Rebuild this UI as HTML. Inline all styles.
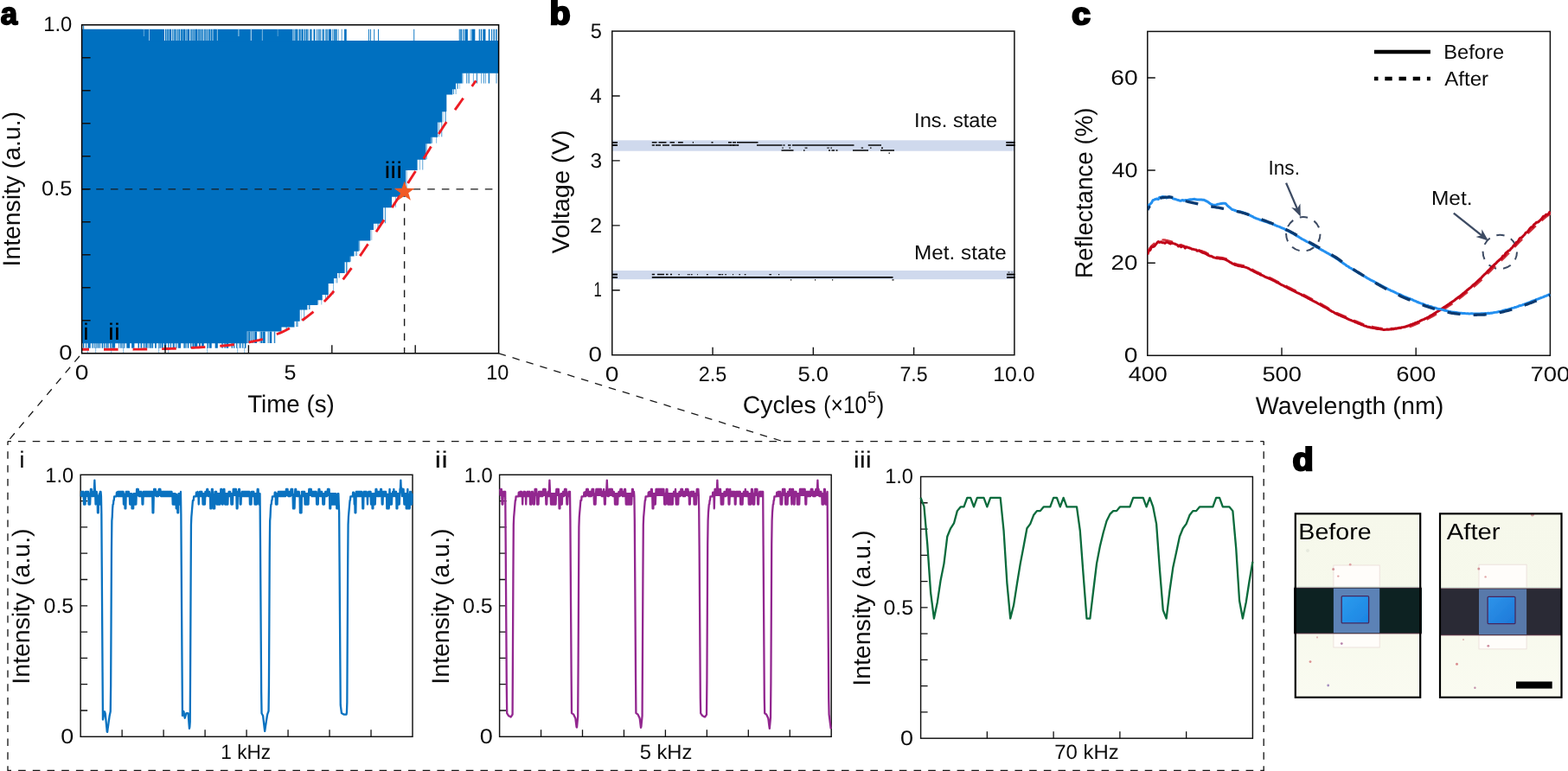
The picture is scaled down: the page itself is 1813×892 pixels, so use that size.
<!DOCTYPE html>
<html lang="en">
<head>
<meta charset="utf-8">
<title>Figure</title>
<style>
html,body{margin:0;padding:0;background:#fff;}
body{width:1813px;height:892px;overflow:hidden;}
svg{display:block;}
svg text{font-family:"Liberation Sans", sans-serif;text-rendering:geometricPrecision;}
</style>
</head>
<body>
<svg width="1813" height="892" viewBox="0 0 1813 892">
<rect width="1813" height="892" fill="#fff"/>
<path d="M94.6 33.8 H164 V47 H576.6 V84.8 H534.4 V96.6 H527 V103.3 H523.3 V109.5 H516 V129.2 H511 V141.5 H506 V158.8 H498.6 V166.2 H492.5 V184.7 H482.6 V197 H469 V227.8 H453 V240.2 H443.2 V258.7 H432 V266 H428.4 V278.4 H414.8 V290.7 H409.5 V296.5 H404.8 V303.2 H398.6 V316.1 H390 V322 H386 V327.9 H379.7 V341 H372.7 V347.2 H367.2 V353 H355.4 V358.5 H346.7 V371.8 H340.5 V378.6 H325.5 V383.6 H285.5 V397.2 H94.6 Z" fill="#0070C0"/>
<rect x="164" y="33.8" width="26" height="13.3" fill="#0070C0"/>
<path d="M165.94 34h0.51V42h-0.51zM172.25 34h0.78V47h-0.78z" fill="#fff" opacity="0.75"/>
<path d="M190.91 33.8h1.62V47.2h-1.62zM193.03 33.8h0.76V47.2h-0.76zM194.15 33.8h1.12V47.2h-1.12zM195.74 33.8h2.51V47.2h-2.51zM199.23 33.8h1.22V47.2h-1.22zM200.92 33.8h0.65V47.2h-0.65zM201.91 33.8h1.13V47.2h-1.13zM203.54 33.8h0.61V47.2h-0.61zM204.5 33.8h0.61V47.2h-0.61zM205.46 33.8h1.18V47.2h-1.18zM207.07 33.8h1.35V47.2h-1.35zM209.19 33.8h1.98V47.2h-1.98zM211.55 33.8h2.99V47.2h-2.99zM215.29 33.8h1.04V47.2h-1.04zM216.68 33.8h2.57V47.2h-2.57zM220.18 33.8h0.68V47.2h-0.68zM221.24 33.8h0.96V47.2h-0.96zM222.56 33.8h1.11V47.2h-1.11zM224.24 33.8h0.87V47.2h-0.87zM225.46 33.8h3.03V47.2h-3.03zM228.95 33.8h0.8V47.2h-0.8zM230.09 33.8h1.3V47.2h-1.3zM231.91 33.8h1.25V47.2h-1.25zM233.73 33.8h1.48V47.2h-1.48zM236.04 33.8h0.89V47.2h-0.89zM237.28 33.8h0.74V47.2h-0.74zM238.37 33.8h0.94V47.2h-0.94zM239.66 33.8h0.68V47.2h-0.68zM240.69 33.8h0.65V47.2h-0.65zM241.69 33.8h1.28V47.2h-1.28zM243.53 33.8h2.02V47.2h-2.02zM245.91 33.8h0.67V47.2h-0.67zM246.92 33.8h3.08V47.2h-3.08z" fill="#0070C0"/>
<rect x="250" y="33.8" width="88" height="13.3" fill="#0070C0"/>
<path d="M250.87 34h0.77V47h-0.77zM275.5 34h0.88V42h-0.88zM289.8 34h1.01V47h-1.01zM302.88 34h0.68V47h-0.68zM320.87 34h0.44V42h-0.44z" fill="#fff" opacity="0.75"/>
<path d="M338.44 33.8h0.62V47.2h-0.62zM339.41 33.8h1.12V47.2h-1.12zM341.25 33.8h2.59V47.2h-2.59zM344.43 33.8h0.91V47.2h-0.91zM345.92 33.8h1.16V47.2h-1.16zM347.43 33.8h1.04V47.2h-1.04zM348.86 33.8h1.85V47.2h-1.85zM351.69 33.8h1.31V47.2h-1.31zM353.65 33.8h1.35V47.2h-1.35z" fill="#0070C0"/>
<path d="M355.36 33.8h1.26V47.2h-1.26zM358.02 33.8h0.83V47.2h-0.83zM359.2 33.8h1.43V47.2h-1.43zM362.47 33.8h1.96V47.2h-1.96zM366.13 33.8h1.05V47.2h-1.05zM368.18 33.8h1.37V47.2h-1.37zM370.19 33.8h0.76V47.2h-0.76zM371.84 33.8h0.72V47.2h-0.72zM373.34 33.8h1.59V47.2h-1.59zM376.18 33.8h0.71V47.2h-0.71zM377.35 33.8h1.39V47.2h-1.39zM379.63 33.8h3.46V47.2h-3.46zM384.35 33.8h1.02V47.2h-1.02zM386.17 33.8h1.58V47.2h-1.58zM388.15 33.8h1.5V47.2h-1.5z" fill="#0070C0"/>
<path d="M390.83 33.8h0.63V47.2h-0.63zM394.74 33.8h0.72V47.2h-0.72zM398.07 33.8h2.64V47.2h-2.64z" fill="#0070C0"/>
<path d="M530.72 33.8h1.01V47.2h-1.01zM532.08 33.8h0.67V47.2h-0.67zM533.11 33.8h1.15V47.2h-1.15zM535.4 33.8h1.17V47.2h-1.17zM537.5 33.8h3.37V47.2h-3.37zM543.81 33.8h0.52V47.2h-0.52zM544.9 33.8h0.61V47.2h-0.61zM545.86 33.8h3.49V47.2h-3.49zM553.7 33.8h1.17V47.2h-1.17zM555.82 33.8h1.34V47.2h-1.34zM558.33 33.8h3.12V47.2h-3.12zM564.85 33.8h1.49V47.2h-1.49zM568.09 33.8h1.07V47.2h-1.07zM570.5 33.8h1.42V47.2h-1.42zM573.09 33.8h1.46V47.2h-1.46zM575.93 33.8h0.27V47.2h-0.27z" fill="#0070C0"/>
<rect x="426" y="33.8" width="0.9" height="13.4" fill="#0070C0"/>
<rect x="428" y="33.8" width="0.9" height="13.4" fill="#0070C0"/>
<rect x="432.3" y="33.8" width="0.9" height="13.4" fill="#0070C0"/>
<rect x="437" y="33.8" width="0.9" height="13.4" fill="#0070C0"/>
<rect x="478.3" y="33.8" width="0.9" height="13.4" fill="#0070C0"/>
<rect x="96" y="29.5" width="1.2" height="5" fill="#0070C0" opacity="0.8"/>
<path d="M96.02 397h1.39V402.8h-1.39zM99.02 397h1.08V402.8h-1.08zM101.49 397h3.24V402.8h-3.24zM106.43 397h1.2V402.8h-1.2zM108.67 397h0.53V402.8h-0.53zM109.55 397h0.86V402.8h-0.86zM111.31 397h0.72V402.8h-0.72zM112.71 397h1.39V402.8h-1.39zM114.92 397h1.08V402.8h-1.08zM117.58 397h1.52V402.8h-1.52zM119.92 397h0.99V402.8h-0.99zM121.69 397h0.85V402.8h-0.85zM123.24 397h0.73V402.8h-0.73zM124.32 397h1.35V402.8h-1.35zM127.18 397h0.9V402.8h-0.9zM128.49 397h1.01V402.8h-1.01zM129.91 397h3.24V402.8h-3.24zM136.85 397h0.75V402.8h-0.75zM138.76 397h0.94V402.8h-0.94zM140.4 397h0.6V402.8h-0.6zM141.43 397h1V402.8h-1zM143.21 397h1.07V402.8h-1.07zM145.9 397h0.62V402.8h-0.62zM146.88 397h3.22V402.8h-3.22zM152.13 397h3.29V402.8h-3.29zM159.55 397h1.4V402.8h-1.4zM162.56 397h1.54V402.8h-1.54zM165.6 397h1.07V402.8h-1.07zM167.41 397h0.81V402.8h-0.81zM168.63 397h1.48V402.8h-1.48zM170.56 397h0.6V402.8h-0.6zM171.79 397h0.74V402.8h-0.74zM172.89 397h0.51V402.8h-0.51zM173.82 397h1.51V402.8h-1.51zM175.83 397h1.28V402.8h-1.28zM179.07 397h1.73V402.8h-1.73zM183.37 397h1.19V402.8h-1.19zM185.21 397h0.99V402.8h-0.99zM186.82 397h1.38V402.8h-1.38zM188.65 397h0.52V402.8h-0.52zM189.97 397h2.34V402.8h-2.34zM194.32 397h1.22V402.8h-1.22zM196.92 397h1.1V402.8h-1.1zM199.71 397h1.84V402.8h-1.84zM202.61 397h0.72V402.8h-0.72zM204.21 397h0.65V402.8h-0.65zM205.87 397h3.13V402.8h-3.13zM212.39 397h1.47V402.8h-1.47zM214.37 397h1.23V402.8h-1.23zM216.75 397h1.57V402.8h-1.57zM220.15 397h1.21V402.8h-1.21zM222.12 397h0.5V402.8h-0.5zM222.97 397h1.58V402.8h-1.58zM225.07 397h3.24V402.8h-3.24zM229.96 397h1.91V402.8h-1.91zM233.09 397h2.69V402.8h-2.69zM239.22 397h0.6V402.8h-0.6zM240.17 397h1.15V402.8h-1.15zM242.08 397h2.62V402.8h-2.62zM248.67 397h3.16V402.8h-3.16zM256.37 397h1.36V402.8h-1.36zM259.45 397h1.29V402.8h-1.29zM261.58 397h2.6V402.8h-2.6zM267.66 397h1.29V402.8h-1.29zM270.02 397h1.27V402.8h-1.27zM273.14 397h1.33V402.8h-1.33zM276.23 397h0.52V402.8h-0.52zM277.42 397h1.28V402.8h-1.28zM280.13 397h1.31V402.8h-1.31zM282.87 397h1.56V402.8h-1.56z" fill="#0070C0"/>
<path d="M285.55 383.4h0.52V397h-0.52zM286.42 383.4h0.79V397h-0.79zM287.56 383.4h1.53V397h-1.53zM289.74 383.4h1.08V397h-1.08zM291.86 383.4h1.39V397h-1.39zM294.12 383.4h2.93V397h-2.93zM300.6 383.4h1.01V397h-1.01zM302.02 383.4h1.5V397h-1.5zM304.07 383.4h2.63V397h-2.63zM309.7 383.4h0.86V397h-0.86zM311.66 383.4h2.6V397h-2.6zM316.8 383.4h1.03V397h-1.03zM318.29 383.4h0.21V397h-0.21z" fill="#0070C0"/>
<path d="M534.69 84.6h0.63V96.6h-0.63zM539.11 84.6h0.67V96.6h-0.67zM540.79 84.6h0.64V96.6h-0.64zM542.35 84.6h0.65V96.6h-0.65zM546.92 84.6h0.59V96.6h-0.59zM550.88 84.6h0.96V96.6h-0.96zM556.44 84.6h0.53V96.6h-0.53zM559.12 84.6h0.72V96.6h-0.72zM561 84.6h0.58V96.6h-0.58zM564.74 84.6h1.31V96.6h-1.31zM573.64 84.6h0.74V96.6h-0.74z" fill="#0070C0"/>
<rect x="287.56" y="383.1" width="0.59" height="13.6" fill="#0070C0" opacity="0.7"/>
<rect x="290.54" y="383.1" width="0.4" height="13.6" fill="#0070C0" opacity="0.7"/>
<rect x="330.53" y="378.1" width="0.47" height="5" fill="#0070C0" opacity="0.7"/>
<rect x="331.06" y="378.1" width="0.83" height="5" fill="#0070C0" opacity="0.7"/>
<rect x="342.24" y="371.3" width="0.62" height="6.8" fill="#0070C0" opacity="0.7"/>
<rect x="342.86" y="371.3" width="1" height="6.8" fill="#0070C0" opacity="0.7"/>
<rect x="344.04" y="371.3" width="0.62" height="6.8" fill="#0070C0" opacity="0.7"/>
<rect x="351.23" y="358" width="0.91" height="13.3" fill="#0070C0" opacity="0.7"/>
<rect x="348.38" y="358" width="0.43" height="13.3" fill="#0070C0" opacity="0.7"/>
<rect x="357.11" y="352.5" width="0.96" height="5.5" fill="#0070C0" opacity="0.7"/>
<rect x="356.9" y="352.5" width="0.56" height="5.5" fill="#0070C0" opacity="0.7"/>
<rect x="358.47" y="352.5" width="0.51" height="5.5" fill="#0070C0" opacity="0.7"/>
<rect x="371.52" y="346.7" width="0.66" height="5.8" fill="#0070C0" opacity="0.7"/>
<rect x="367.36" y="346.7" width="0.86" height="5.8" fill="#0070C0" opacity="0.7"/>
<rect x="378.18" y="340.5" width="0.96" height="6.2" fill="#0070C0" opacity="0.7"/>
<rect x="376" y="340.5" width="0.83" height="6.2" fill="#0070C0" opacity="0.7"/>
<rect x="385.3" y="327.4" width="0.65" height="13.1" fill="#0070C0" opacity="0.7"/>
<rect x="389.01" y="321.5" width="0.79" height="5.9" fill="#0070C0" opacity="0.7"/>
<rect x="387.14" y="321.5" width="0.43" height="5.9" fill="#0070C0" opacity="0.7"/>
<rect x="389.71" y="321.5" width="0.48" height="5.9" fill="#0070C0" opacity="0.7"/>
<rect x="392.49" y="315.6" width="0.57" height="5.9" fill="#0070C0" opacity="0.7"/>
<rect x="391.53" y="315.6" width="0.84" height="5.9" fill="#0070C0" opacity="0.7"/>
<rect x="400.16" y="302.7" width="0.79" height="12.9" fill="#0070C0" opacity="0.7"/>
<rect x="400.41" y="302.7" width="0.73" height="12.9" fill="#0070C0" opacity="0.7"/>
<rect x="400.97" y="302.7" width="0.5" height="12.9" fill="#0070C0" opacity="0.7"/>
<rect x="405.15" y="296" width="0.7" height="6.7" fill="#0070C0" opacity="0.7"/>
<rect x="412.42" y="290.2" width="0.67" height="5.8" fill="#0070C0" opacity="0.7"/>
<rect x="411.26" y="290.2" width="0.86" height="5.8" fill="#0070C0" opacity="0.7"/>
<rect x="415.64" y="277.9" width="0.52" height="12.3" fill="#0070C0" opacity="0.7"/>
<rect x="415.34" y="277.9" width="0.61" height="12.3" fill="#0070C0" opacity="0.7"/>
<rect x="429.55" y="265.5" width="0.62" height="12.4" fill="#0070C0" opacity="0.7"/>
<rect x="433.21" y="258.2" width="0.41" height="7.3" fill="#0070C0" opacity="0.7"/>
<rect x="437.22" y="258.2" width="0.63" height="7.3" fill="#0070C0" opacity="0.7"/>
<rect x="436.48" y="258.2" width="0.53" height="7.3" fill="#0070C0" opacity="0.7"/>
<rect x="445.23" y="239.7" width="0.44" height="18.5" fill="#0070C0" opacity="0.7"/>
<rect x="444.87" y="239.7" width="0.98" height="18.5" fill="#0070C0" opacity="0.7"/>
<rect x="457.12" y="227.3" width="0.72" height="12.4" fill="#0070C0" opacity="0.7"/>
<rect x="469.56" y="196.5" width="0.94" height="30.8" fill="#0070C0" opacity="0.7"/>
<rect x="485" y="184.2" width="0.67" height="12.3" fill="#0070C0" opacity="0.7"/>
<rect x="488.32" y="184.2" width="0.91" height="12.3" fill="#0070C0" opacity="0.7"/>
<rect x="493.26" y="165.7" width="0.66" height="18.5" fill="#0070C0" opacity="0.7"/>
<rect x="504.41" y="158.3" width="0.69" height="7.4" fill="#0070C0" opacity="0.7"/>
<rect x="499.04" y="158.3" width="0.96" height="7.4" fill="#0070C0" opacity="0.7"/>
<rect x="510.28" y="141" width="0.98" height="17.3" fill="#0070C0" opacity="0.7"/>
<rect x="507.24" y="141" width="0.47" height="17.3" fill="#0070C0" opacity="0.7"/>
<rect x="506.77" y="141" width="0.71" height="17.3" fill="#0070C0" opacity="0.7"/>
<rect x="511.54" y="128.7" width="0.9" height="12.3" fill="#0070C0" opacity="0.7"/>
<rect x="514.51" y="128.7" width="0.91" height="12.3" fill="#0070C0" opacity="0.7"/>
<rect x="515.47" y="128.7" width="0.45" height="12.3" fill="#0070C0" opacity="0.7"/>
<rect x="516.01" y="109" width="0.48" height="19.7" fill="#0070C0" opacity="0.7"/>
<rect x="526.7" y="102.8" width="0.79" height="6.2" fill="#0070C0" opacity="0.7"/>
<rect x="524.42" y="102.8" width="0.48" height="6.2" fill="#0070C0" opacity="0.7"/>
<rect x="524.23" y="102.8" width="0.78" height="6.2" fill="#0070C0" opacity="0.7"/>
<rect x="531.58" y="96.1" width="0.46" height="6.7" fill="#0070C0" opacity="0.7"/>
<rect x="528.8" y="96.1" width="0.97" height="6.7" fill="#0070C0" opacity="0.7"/>
<rect x="528.15" y="96.1" width="0.56" height="6.7" fill="#0070C0" opacity="0.7"/>
<rect x="101" y="402" width="0.6" height="6.5" fill="#0070C0" opacity="0.8"/>
<rect x="110.5" y="402" width="0.6" height="6.5" fill="#0070C0" opacity="0.8"/>
<rect x="128.3" y="402" width="0.6" height="6.5" fill="#0070C0" opacity="0.8"/>
<rect x="142.5" y="402" width="0.6" height="6.5" fill="#0070C0" opacity="0.8"/>
<rect x="183.5" y="402" width="0.6" height="6.5" fill="#0070C0" opacity="0.8"/>
<rect x="194.5" y="402" width="0.6" height="6.5" fill="#0070C0" opacity="0.8"/>
<rect x="239.5" y="402" width="0.6" height="6.5" fill="#0070C0" opacity="0.8"/>
<rect x="274.5" y="402" width="0.6" height="6.5" fill="#0070C0" opacity="0.8"/>
<rect x="282.5" y="402" width="0.6" height="6.5" fill="#0070C0" opacity="0.8"/>
<line x1="94.6" y1="218.9" x2="570.6" y2="218.9" stroke="#1a1a1a" stroke-width="1.4" stroke-dasharray="8.6 8.05"/>
<line x1="467.6" y1="218.9" x2="467.6" y2="408.8" stroke="#1a1a1a" stroke-width="1.4" stroke-dasharray="8.6 8.05"/>
<path d="M94.7 404.3 L97.57 404.3 L100.43 404.3 L103.3 404.3 L106.16 404.3 L109.03 404.29 L111.9 404.29 L114.76 404.29 L117.63 404.28 L120.49 404.28 L123.36 404.27 L126.23 404.27 L129.09 404.26 L131.96 404.25 L134.82 404.25 L137.69 404.24 L140.56 404.23 L143.42 404.22 L146.29 404.21 L149.15 404.2 L152.02 404.19 L154.89 404.17 L157.75 404.15 L160.62 404.12 L163.48 404.09 L166.35 404.05 L169.22 404.01 L172.08 403.96 L174.95 403.91 L177.82 403.85 L180.68 403.8 L183.55 403.74 L186.41 403.68 L189.28 403.62 L192.15 403.55 L195.01 403.47 L197.88 403.38 L200.74 403.29 L203.61 403.18 L206.48 403.07 L209.34 402.95 L212.21 402.82 L215.07 402.68 L217.94 402.55 L220.81 402.4 L223.67 402.26 L226.54 402.11 L229.4 401.96 L232.27 401.8 L235.14 401.64 L238 401.47 L240.87 401.3 L243.73 401.11 L246.6 400.91 L249.47 400.71 L252.33 400.49 L255.2 400.25 L258.06 400.01 L260.93 399.74 L263.8 399.46 L266.66 399.15 L269.53 398.81 L272.39 398.44 L275.26 398.04 L278.13 397.61 L280.99 397.15 L283.86 396.66 L286.72 396.15 L289.59 395.6 L292.46 395.03 L295.32 394.43 L298.19 393.78 L301.05 393.05 L303.92 392.26 L306.79 391.4 L309.65 390.49 L312.52 389.51 L315.38 388.48 L318.25 387.39 L321.12 386.26 L323.98 385.08 L326.85 383.85 L329.72 382.52 L332.58 381.07 L335.45 379.5 L338.31 377.83 L341.18 376.06 L344.05 374.2 L346.91 372.27 L349.78 370.28 L352.64 368.22 L355.51 366.12 L358.38 363.92 L361.24 361.59 L364.11 359.14 L366.97 356.57 L369.84 353.9 L372.71 351.13 L375.57 348.27 L378.44 345.32 L381.3 342.28 L384.17 339.04 L387.04 335.63 L389.9 332.08 L392.77 328.43 L395.63 324.69 L398.5 320.91 L401.37 317.11 L404.23 313.23 L407.1 309.25 L409.96 305.18 L412.83 301.05 L415.7 296.89 L418.56 292.7 L421.43 288.51 L424.29 284.27 L427.16 279.98 L430.03 275.67 L432.89 271.32 L435.76 266.97 L438.62 262.61 L441.49 258.23 L444.36 253.81 L447.22 249.38 L450.09 244.95 L452.95 240.53 L455.82 236.14 L458.69 231.8 L461.55 227.53 L464.42 223.25 L467.28 218.89 L470.15 214.38 L473.02 209.78 L475.88 205.22 L478.75 200.73 L481.62 196.28 L484.48 191.83 L487.35 187.37 L490.21 182.88 L493.08 178.33 L495.95 173.68 L498.81 168.93 L501.68 164.14 L504.54 159.37 L507.41 154.69 L510.28 150.16 L513.14 145.78 L516.01 141.52 L518.87 137.34 L521.74 133.22 L524.61 129.14 L527.47 125.09 L530.34 121.04 L533.2 117.01 L536.07 113 L538.94 109.02 L541.8 105.07 L544.67 101.15 L547.53 97.26 L550.4 93.4" stroke="#ED1C24" stroke-width="2.9" fill="none" stroke-dasharray="16.6 17" stroke-dashoffset="8.3"/>
<rect x="94.6" y="28.8" width="482" height="380" fill="none" stroke="#000" stroke-width="1.5"/>
<path d="M94.6 370.8h10M94.6 332.8h10M94.6 294.8h10M94.6 256.8h10M94.6 218.8h10M94.6 180.8h10M94.6 142.8h10M94.6 104.8h10M94.6 66.8h10" stroke="#111" stroke-width="1.4" fill="none"/>
<path d="M191 408.8v-9.5M287.4 408.8v-9.5M383.8 408.8v-9.5M480.2 408.8v-9.5" stroke="#111" stroke-width="1.4" fill="none"/>
<polygon points="467.6,209.4 470.48,217.84 479.39,217.97 472.26,223.31 474.89,231.83 467.6,226.7 460.31,231.83 462.94,223.31 455.81,217.97 464.72,217.84" fill="#F15A24"/>
<text transform="translate(0.81 28.29) scale(0.3474 0.3580)" font-size="100" font-weight="bold" fill="#000" stroke="#000" stroke-width="5.39" stroke-linejoin="round" stroke-miterlimit="1.6">a</text>
<text transform="translate(50.22 36.1) scale(0.9915 1)" font-size="24" fill="#0c0c0c">1.0</text>
<text transform="translate(47.98 225.8) scale(1.0623 1)" font-size="24" fill="#0c0c0c">0.5</text>
<text transform="translate(68.2 416.1) scale(1.1431 1)" font-size="24" fill="#0c0c0c">0</text>
<text transform="translate(86.87 439.2) scale(1.1780 1)" font-size="24" fill="#0c0c0c">0</text>
<text transform="translate(328.5 439.1) scale(1.0439 1)" font-size="24" fill="#0c0c0c">5</text>
<text transform="translate(562.24 439.1) scale(0.9774 1)" font-size="24" fill="#0c0c0c">10</text>
<text transform="translate(286.18 477.3) scale(0.9833 1)" font-size="28.2" fill="#0c0c0c">Time (s)</text>
<text transform="translate(22.9 308.42) rotate(-90) scale(1.0043 1)" font-size="28.2" fill="#0c0c0c">Intensity (a.u.)</text>
<text transform="translate(96.17 392.8) scale(1.0582 1)" font-size="27" fill="#000">i</text>
<text transform="translate(125.11 392.8) scale(1.1470 1)" font-size="27" fill="#000">ii</text>
<text transform="translate(444.53 205.8) scale(1.1337 1)" font-size="27" fill="#000">iii</text>
<line x1="94.6" y1="408.8" x2="9" y2="510.6" stroke="#1a1a1a" stroke-width="1.3" stroke-dasharray="8.6 8.05" stroke-dashoffset="12.45"/>
<line x1="576.6" y1="408.8" x2="903.5" y2="510.2" stroke="#1a1a1a" stroke-width="1.3" stroke-dasharray="8.6 8.05"/>
<rect x="707.75" y="162.3" width="465.15" height="12.4" fill="#CFD9ED"/>
<rect x="707.75" y="313" width="465.15" height="10.2" fill="#CFD9ED"/>
<path d="M708.5 164.05H714v1.5H708.5zM1163.5 164.05H1172.3v1.5H1163.5zM753.8 164.05H759.5v1.5H753.8zM761.5 164.05H770.5v1.5H761.5zM774.5 164.05H780v1.5H774.5zM784 164.05H789.8v1.5H784zM800.8 164.05H802v1.5H800.8zM822.5 164.05H824.5v1.5H822.5zM842 164.05H846v1.5H842zM847 164.05H851v1.5H847zM852 164.05H876.5v1.5H852z" fill="#0a0a0a"/>
<path d="M708.5 167.2H714v1.6H708.5zM1163.5 167.2H1172.3v1.6H1163.5zM753.8 167.2H757v1.6H753.8zM758 167.2H764v1.6H758zM766 167.2H774v1.6H766zM776.5 167.2H787v1.6H776.5zM787 167.2H854v1.6H787zM875 167.2H904.5v1.6H875zM905.5 167.2H907.5v1.6H905.5zM911 167.2H914.5v1.6H911zM916 167.2H987.5v1.6H916zM1003.8 167.2H1019v1.6H1003.8z" fill="#0a0a0a"/>
<path d="M847.43 167.35H848.59v1.3H847.43zM853.09 167.35H854.16v1.3H853.09zM848.09 167.35H849.28v1.3H848.09zM844.22 167.35H845.33v1.3H844.22z" fill="#0a0a0a"/>
<path d="M912.45 170.55H913.84v1.3H912.45zM904.41 170.55H905.32v1.3H904.41zM904.36 170.55H905.77v1.3H904.36zM913.4 170.55H914.04v1.3H913.4z" fill="#0a0a0a"/>
<path d="M931.93 170.55H933.49v1.3H931.93zM930.62 170.55H931.83v1.3H930.62z" fill="#0a0a0a"/>
<path d="M957.57 170.55H958.19v1.3H957.57zM961.28 170.55H961.94v1.3H961.28zM957.9 170.55H958.74v1.3H957.9zM956.3 170.55H957.36v1.3H956.3zM960.41 170.55H961.85v1.3H960.41z" fill="#0a0a0a"/>
<path d="M996.86 170.55H998.1v1.3H996.86zM996.5 170.55H997.76v1.3H996.5zM995.69 170.55H996.57v1.3H995.69zM1005.96 170.55H1007.55v1.3H1005.96z" fill="#0a0a0a"/>
<path d="M1019 170.45H1021v1.5H1019z" fill="#0a0a0a"/>
<path d="M903.5 173.35H917.5v1.5H903.5zM929 173.35H930.5v1.5H929zM958 173.35H960v1.5H958zM961.5 173.35H965v1.5H961.5zM966.5 173.35H968.5v1.5H966.5zM986 173.35H1004v1.5H986zM1018 173.35H1034v1.5H1018z" fill="#0a0a0a"/>
<path d="M1027.5 176.6H1029v1.2H1027.5z" fill="#0a0a0a"/>
<path d="M708.5 319.95H714v1.7H708.5zM1164 319.95H1172.3v1.7H1164zM753.8 319.95H1032.5v1.7H753.8z" fill="#0a0a0a"/>
<path d="M708.5 316.85H714v1.5H708.5zM1164 316.85H1172.3v1.5H1164zM753.8 316.85H757v1.5H753.8zM760 316.85H768v1.5H760zM770 316.85H772.5v1.5H770zM775 316.85H777v1.5H775z" fill="#0a0a0a"/>
<path d="M796.48 316.95H797.79v1.3H796.48zM784.94 316.95H785.77v1.3H784.94zM784.36 316.95H785.03v1.3H784.36zM794.86 316.95H795.86v1.3H794.86zM796.62 316.95H797.61v1.3H796.62zM799.08 316.95H800.52v1.3H799.08z" fill="#0a0a0a"/>
<path d="M806.01 316.95H806.82v1.3H806.01zM816.92 316.95H817.99v1.3H816.92zM817.76 316.95H818.76v1.3H817.76z" fill="#0a0a0a"/>
<path d="M830.48 316.95H831.71v1.3H830.48zM854.47 316.95H855.34v1.3H854.47zM830.96 316.95H831.9v1.3H830.96zM860.78 316.95H862.14v1.3H860.78zM832.01 316.95H832.86v1.3H832.01zM831.44 316.95H832.1v1.3H831.44zM855.1 316.95H855.88v1.3H855.1zM847.02 316.95H848.06v1.3H847.02zM834.48 316.95H835.82v1.3H834.48zM832.45 316.95H833.7v1.3H832.45zM831.96 316.95H832.98v1.3H831.96zM835.24 316.95H836.11v1.3H835.24zM861.01 316.95H862.41v1.3H861.01zM838.34 316.95H839.83v1.3H838.34z" fill="#0a0a0a"/>
<path d="M890.95 316.95H891.94v1.3H890.95zM899.96 316.95H901.2v1.3H899.96zM889.4 316.95H890.99v1.3H889.4zM890.99 316.95H891.84v1.3H890.99z" fill="#0a0a0a"/>
<path d="M1169.64 314.5H1170.57v1H1169.64zM1166.78 314.5H1167.45v1H1166.78zM1165.54 314.5H1166.72v1H1165.54z" fill="#0a0a0a"/>
<path d="M914 323.2H915.2v1.2H914zM942 323.2H943.2v1.2H942zM962 323.2H963.2v1.2H962zM1031.5 323.2H1033.5v1.2H1031.5z" fill="#0a0a0a"/>
<rect x="707.75" y="36.05" width="465.15" height="374.65" fill="none" stroke="#111" stroke-width="1.5"/>
<path d="M707.75 335.77h9M707.75 260.84h9M707.75 185.91h9M707.75 110.98h9" stroke="#111" stroke-width="1.4" fill="none"/>
<path d="M824.04 410.7v-9M940.33 410.7v-9M1056.61 410.7v-9" stroke="#111" stroke-width="1.4" fill="none"/>
<path d="M1163.5 163.95H1173.6v1.7H1163.5z" fill="#000"/>
<path d="M1163.5 167.15H1173.6v1.7H1163.5z" fill="#000"/>
<path d="M1164 316.8H1173.6v1.6H1164z" fill="#000"/>
<path d="M1164 319.95H1173.6v1.7H1164z" fill="#000"/>
<path d="M707.5 164H714v1.6H707.5z" fill="#000"/>
<path d="M707.5 167.2H714v1.6H707.5z" fill="#000"/>
<path d="M707.5 316.8H714v1.6H707.5z" fill="#000"/>
<path d="M707.5 320H714v1.6H707.5z" fill="#000"/>
<text transform="translate(635.44 27.88) scale(0.3941 0.3707)" font-size="100" font-weight="bold" fill="#000" stroke="#000" stroke-width="6.28" stroke-linejoin="miter" stroke-miterlimit="1.6">b</text>
<text transform="translate(680.49 418.1) scale(1.1606 1)" font-size="24" fill="#0c0c0c">0</text>
<text transform="translate(686.45 343.32) scale(0.6936 1)" font-size="24" fill="#0c0c0c">1</text>
<text transform="translate(682.03 268.54) scale(1.0623 1)" font-size="24" fill="#0c0c0c">2</text>
<text transform="translate(682.38 193.76) scale(1.0175 1)" font-size="24" fill="#0c0c0c">3</text>
<text transform="translate(682.16 118.98) scale(1.0066 1)" font-size="24" fill="#0c0c0c">4</text>
<text transform="translate(682.76 44.2) scale(0.9825 1)" font-size="24" fill="#0c0c0c">5</text>
<text transform="translate(699.87 441.2) scale(1.1780 1)" font-size="24" fill="#0c0c0c">0</text>
<text transform="translate(807.67 441.2) scale(0.9744 1)" font-size="24" fill="#0c0c0c">2.5</text>
<text transform="translate(922.5 441.2) scale(1.0667 1)" font-size="24" fill="#0c0c0c">5.0</text>
<text transform="translate(1040.4 441.2) scale(0.9647 1)" font-size="24" fill="#0c0c0c">7.5</text>
<text transform="translate(1148.23 441.2) scale(1.0368 1)" font-size="24" fill="#0c0c0c">10.0</text>
<text transform="translate(858.78 478) scale(1.0048 1)" font-size="28.2" fill="#0c0c0c">Cycles</text>
<text transform="translate(952.26 478) scale(0.8757 1)" font-size="28.2" fill="#0c0c0c">(×10</text>
<text transform="translate(1002.88 465.8) scale(0.9529 1)" font-size="19" fill="#0c0c0c">5</text>
<text transform="translate(1013.4 478) scale(0.9367 1)" font-size="28.2" fill="#0c0c0c">)</text>
<text transform="translate(658.3 293.54) rotate(-90) scale(1.0262 1)" font-size="28.2" fill="#0c0c0c">Voltage (V)</text>
<text transform="translate(1057.11 147.1) scale(1.0220 1)" font-size="23.2" fill="#0c0c0c">Ins. state</text>
<text transform="translate(1057.09 299.6) scale(1.0480 1)" font-size="23.2" fill="#0c0c0c">Met. state</text>
<rect x="1326.8" y="36.4" width="465.6" height="374.9" fill="none" stroke="#111" stroke-width="1.5"/>
<path d="M1326.8 304.19h9M1326.8 197.07h9M1326.8 89.96h9" stroke="#111" stroke-width="1.4" fill="none"/>
<path d="M1482 411.3v-9M1637.2 411.3v-9" stroke="#111" stroke-width="1.4" fill="none"/>
<circle cx="1506.8" cy="270.8" r="19.7" fill="none" stroke="#3D4B63" stroke-width="2.0" stroke-dasharray="9.5 8.18" stroke-dashoffset="0.3"/>
<circle cx="1734.3" cy="291.5" r="19.7" fill="none" stroke="#3D4B63" stroke-width="2.0" stroke-dasharray="9.5 8.18" stroke-dashoffset="0.3"/>
<line x1="1487.1" y1="211.6" x2="1502.62" y2="247.84" stroke="#3D4B63" stroke-width="2.3"/>
<polygon points="1503.8,250.6 1493.14,239.93 1499.86,241.41 1503.44,235.53" fill="#3D4B63"/>
<line x1="1680.8" y1="246.6" x2="1718.55" y2="276.54" stroke="#3D4B63" stroke-width="2.3"/>
<polygon points="1720.9,278.4 1706.45,274.09 1713.06,272.19 1713.41,265.31" fill="#3D4B63"/>
<g clip-path="url(#clipc)">
<clipPath id="clipc"><rect x="1326.8" y="36.4" width="466.4" height="374.9"/></clipPath>
<path d="M1326.8 291 L1329.15 287.4 L1331.5 284.38 L1333.85 282.38 L1336.19 280.74 L1338.54 279.31 L1340.89 278.22 L1343.24 277.59 L1345.59 277.53 L1347.94 277.8 L1350.29 278.29 L1352.64 278.94 L1354.98 279.66 L1357.33 280.41 L1359.68 281.11 L1362.03 281.87 L1364.38 282.72 L1366.73 283.62 L1369.08 284.53 L1371.43 285.41 L1373.77 286.2 L1376.12 286.89 L1378.47 287.5 L1380.82 288.07 L1383.17 288.62 L1385.52 289.19 L1387.87 289.81 L1390.22 290.51 L1392.56 291.35 L1394.91 292.46 L1397.26 293.72 L1399.61 294.97 L1401.96 296.03 L1404.31 296.75 L1406.66 297.22 L1409.01 297.57 L1411.35 297.9 L1413.7 298.29 L1416.05 298.81 L1418.4 299.72 L1420.75 301.01 L1423.1 302.46 L1425.45 303.86 L1427.8 304.98 L1430.14 305.72 L1432.49 306.28 L1434.84 306.76 L1437.19 307.25 L1439.54 307.84 L1441.89 308.63 L1444.24 309.69 L1446.59 310.92 L1448.93 312.24 L1451.28 313.53 L1453.63 314.7 L1455.98 315.8 L1458.33 316.87 L1460.68 317.92 L1463.03 318.96 L1465.38 320.01 L1467.72 321.09 L1470.07 322.19 L1472.42 323.34 L1474.77 324.51 L1477.12 325.71 L1479.47 326.92 L1481.82 328.13 L1484.17 329.34 L1486.51 330.55 L1488.86 331.74 L1491.21 332.92 L1493.56 334.09 L1495.91 335.26 L1498.26 336.43 L1500.61 337.61 L1502.96 338.79 L1505.3 339.98 L1507.65 341.18 L1510 342.4 L1512.35 343.61 L1514.7 344.84 L1517.05 346.08 L1519.4 347.32 L1521.75 348.57 L1524.09 349.83 L1526.44 351.1 L1528.79 352.39 L1531.14 353.73 L1533.49 355.1 L1535.84 356.49 L1538.19 357.86 L1540.54 359.2 L1542.88 360.5 L1545.23 361.73 L1547.58 362.87 L1549.93 363.9 L1552.28 364.89 L1554.63 365.91 L1556.98 366.95 L1559.33 368 L1561.67 369.03 L1564.02 370.04 L1566.37 371.03 L1568.72 371.97 L1571.07 372.94 L1573.42 373.91 L1575.77 374.85 L1578.12 375.71 L1580.46 376.46 L1582.81 377.05 L1585.16 377.56 L1587.51 378.07 L1589.86 378.56 L1592.21 379 L1594.56 379.38 L1596.91 379.68 L1599.25 379.89 L1601.6 379.99 L1603.95 380 L1606.3 379.98 L1608.65 379.96 L1611 379.92 L1613.35 379.87 L1615.7 379.81 L1618.04 379.74 L1620.39 379.65 L1622.74 379.56 L1625.09 379.41 L1627.44 378.96 L1629.79 378.25 L1632.14 377.34 L1634.49 376.33 L1636.83 375.31 L1639.18 374.35 L1641.53 373.39 L1643.88 372.37 L1646.23 371.29 L1648.58 370.17 L1650.93 368.99 L1653.28 367.77 L1655.62 366.49 L1657.97 365.12 L1660.32 363.68 L1662.67 362.19 L1665.02 360.68 L1667.37 359.16 L1669.72 357.66 L1672.07 356.14 L1674.41 354.61 L1676.76 353.06 L1679.11 351.47 L1681.46 349.84 L1683.81 348.16 L1686.16 346.42 L1688.51 344.63 L1690.86 342.8 L1693.2 340.92 L1695.55 339.02 L1697.9 337.08 L1700.25 335.12 L1702.6 333.13 L1704.95 331.09 L1707.3 329.02 L1709.65 326.91 L1711.99 324.75 L1714.34 322.53 L1716.69 320.23 L1719.04 317.86 L1721.39 315.46 L1723.74 313.06 L1726.09 310.69 L1728.44 308.39 L1730.78 306.15 L1733.13 303.94 L1735.48 301.74 L1737.83 299.53 L1740.18 297.28 L1742.53 294.97 L1744.88 292.58 L1747.23 290.13 L1749.57 287.64 L1751.92 285.13 L1754.27 282.64 L1756.62 280.2 L1758.97 277.79 L1761.32 275.39 L1763.67 273 L1766.02 270.64 L1768.36 268.31 L1770.71 266.03 L1773.06 263.8 L1775.41 261.58 L1777.76 259.4 L1780.11 257.28 L1782.46 255.24 L1784.81 253.29 L1787.15 251.43 L1789.5 249.64 L1791.85 247.93 L1794.2 246.3" stroke="#D2303A" stroke-width="2.4" fill="none" stroke-dasharray="13 9" stroke-linejoin="round"/>
<path d="M1326.8 294.56 L1328.36 289.78 L1329.91 289.45 L1331.47 285.69 L1333.03 285.46 L1334.58 285.05 L1336.14 283.15 L1337.7 281.17 L1339.25 279.6 L1340.81 280.4 L1342.37 279.86 L1343.93 280.84 L1345.48 280.74 L1347.04 281.43 L1348.6 280.15 L1350.15 280.37 L1351.71 281.17 L1353.27 282.06 L1354.82 280.81 L1356.38 281.61 L1357.94 281.9 L1359.49 282.74 L1361.05 283.09 L1362.61 285 L1364.16 283.77 L1365.72 285.75 L1367.28 284.88 L1368.84 285.17 L1370.39 287.13 L1371.95 285.92 L1373.51 286.44 L1375.06 286.92 L1376.62 287.27 L1378.18 288.22 L1379.73 288.36 L1381.29 288.7 L1382.85 288.92 L1384.4 290.31 L1385.96 289.88 L1387.52 290.59 L1389.07 291.49 L1390.63 292.37 L1392.19 292.67 L1393.74 293.41 L1395.3 294.18 L1396.86 295.09 L1398.42 295.96 L1399.97 296.19 L1401.53 296.84 L1403.09 297.81 L1404.64 298.14 L1406.2 298.45 L1407.76 298.83 L1409.31 298.77 L1410.87 299.22 L1412.43 299.33 L1413.98 299.61 L1415.54 299.87 L1417.1 300.36 L1418.65 301.18 L1420.21 302.01 L1421.77 303.1 L1423.33 303.81 L1424.88 304.93 L1426.44 305.51 L1428 306.42 L1429.55 306.71 L1431.11 307.42 L1432.67 307.82 L1434.22 307.83 L1435.78 308.39 L1437.34 308.47 L1438.89 308.88 L1440.45 309.25 L1442.01 309.95 L1443.56 310.49 L1445.12 311.52 L1446.68 312.3 L1448.23 313.11 L1449.79 314.11 L1451.35 314.75 L1452.91 315.58 L1454.46 316.34 L1456.02 316.9 L1457.58 317.99 L1459.13 318.35 L1460.69 319.05 L1462.25 320.04 L1463.8 320.74 L1465.36 321.28 L1466.92 321.98 L1468.47 322.58 L1470.03 323.26 L1471.59 324.23 L1473.14 324.88 L1474.7 325.62 L1476.26 326.74 L1477.82 327.15 L1479.37 328.11 L1480.93 329.08 L1482.49 329.88 L1484.04 330.41 L1485.6 331.49 L1487.16 332.2 L1488.71 333.02 L1490.27 333.94 L1491.83 334.65 L1493.38 335.34 L1494.94 336.19 L1496.5 336.85 L1498.05 337.65 L1499.61 338.54 L1501.17 339.24 L1502.72 339.92 L1504.28 340.55 L1505.84 341.68 L1507.4 342.28 L1508.95 343.12 L1510.51 343.87 L1512.07 344.79 L1513.62 345.54 L1515.18 346.54 L1516.74 347.25 L1518.29 348.06 L1519.85 348.98 L1521.41 349.66 L1522.96 350.54 L1524.52 351.47 L1526.08 352.3 L1527.63 353.15 L1529.19 354.09 L1530.75 354.83 L1532.31 355.73 L1533.86 356.49 L1535.42 357.43 L1536.98 358.42 L1538.53 359.36 L1540.09 360.42 L1541.65 360.92 L1543.2 361.9 L1544.76 362.89 L1546.32 363.55 L1547.87 364.45 L1549.43 364.84 L1550.99 365.76 L1552.54 366.27 L1554.1 367.01 L1555.66 367.48 L1557.21 368.32 L1558.77 369.18 L1560.33 369.84 L1561.89 370.45 L1563.44 371.06 L1565 371.56 L1566.56 372.49 L1568.11 373 L1569.67 373.75 L1571.23 374.35 L1572.78 374.91 L1574.34 375.75 L1575.9 376.04 L1577.45 376.98 L1579.01 377.13 L1580.57 377.99 L1582.12 378.23 L1583.68 378.52 L1585.24 379.07 L1586.79 379.22 L1588.35 379.55 L1589.91 379.68 L1591.47 380.29 L1593.02 380.5 L1594.58 380.57 L1596.14 380.73 L1597.69 381.03 L1599.25 381.38 L1600.81 381.43 L1602.36 381.29 L1603.92 381.07 L1605.48 381.34 L1607.03 380.95 L1608.59 381.03 L1610.15 380.74 L1611.7 380.72 L1613.26 380.12 L1614.82 380.13 L1616.38 379.82 L1617.93 379.22 L1619.49 379.15 L1621.05 378.72 L1622.6 378.58 L1624.16 378.33 L1625.72 377.77 L1627.27 377.22 L1628.83 376.74 L1630.39 376.03 L1631.94 375.53 L1633.5 374.78 L1635.06 374.42 L1636.61 373.52 L1638.17 373.1 L1639.73 372.31 L1641.28 371.8 L1642.84 370.89 L1644.4 370.16 L1645.96 369.67 L1647.51 368.95 L1649.07 368.24 L1650.63 367.34 L1652.18 366.66 L1653.74 365.43 L1655.3 364.74 L1656.85 363.81 L1658.41 362.65 L1659.97 361.65 L1661.52 360.7 L1663.08 359.82 L1664.64 358.92 L1666.19 357.89 L1667.75 356.83 L1669.31 355.61 L1670.87 354.88 L1672.42 353.78 L1673.98 352.6 L1675.54 351.76 L1677.09 350.54 L1678.65 349.5 L1680.21 348.46 L1681.76 347.47 L1683.32 346.05 L1684.88 345.03 L1686.43 343.75 L1687.99 342.73 L1689.55 341.56 L1691.1 340.08 L1692.66 339.02 L1694.22 337.64 L1695.77 336.25 L1697.33 334.98 L1698.89 333.78 L1700.45 332.58 L1702 331.15 L1703.56 329.53 L1705.12 328.49 L1706.67 327.01 L1708.23 325.53 L1709.79 324.02 L1711.34 322.66 L1712.9 321.27 L1714.46 319.56 L1716.01 317.94 L1717.57 316.68 L1719.13 314.9 L1720.68 313.15 L1722.24 311.92 L1723.8 310.01 L1725.36 308.58 L1726.91 307.18 L1728.47 305.71 L1730.03 304.34 L1731.58 302.57 L1733.14 301.28 L1734.7 299.96 L1736.25 298.63 L1737.81 296.05 L1739.37 296.11 L1740.92 293.01 L1742.48 291.79 L1744.04 290.2 L1745.59 289.58 L1747.15 287.66 L1748.71 286.24 L1750.26 283.96 L1751.82 283.22 L1753.38 280.19 L1754.94 279.94 L1756.49 276.86 L1758.05 275.11 L1759.61 274.78 L1761.16 273.02 L1762.72 271.49 L1764.28 269.21 L1765.83 268.6 L1767.39 266.67 L1768.95 264.43 L1770.5 262.66 L1772.06 262.79 L1773.62 259.82 L1775.17 258.58 L1776.73 257.25 L1778.29 256.93 L1779.85 255.75 L1781.4 254.23 L1782.96 252.66 L1784.52 250.19 L1786.07 250.14 L1787.63 248.21 L1789.19 248.26 L1790.74 247.16 L1792.3 244.67" stroke="#C00418" stroke-width="3" fill="none" stroke-linejoin="round"/>
<path d="M1326.8 237.23 L1328.36 237.59 L1329.91 236.1 L1331.47 234.67 L1333.03 231.62 L1334.58 231.1 L1336.14 230.34 L1337.7 229.95 L1339.25 230.55 L1340.81 228.19 L1342.37 228.57 L1343.93 227.43 L1345.48 227.62 L1347.04 228 L1348.6 229.01 L1350.15 228.61 L1351.71 227.49 L1353.27 228.22 L1354.82 228.16 L1356.38 229.87 L1357.94 230.16 L1359.49 230.65 L1361.05 231.19 L1362.61 231.52 L1364.16 232.22 L1365.72 232.19 L1367.28 231.45 L1368.84 232.21 L1370.39 231.6 L1371.95 231.77 L1373.51 231.35 L1375.06 231.01 L1376.62 230.77 L1378.18 230.69 L1379.73 230.48 L1381.29 230.29 L1382.85 230.86 L1384.4 230.88 L1385.96 231.06 L1387.52 230.99 L1389.07 231.06 L1390.63 231.31 L1392.19 231.31 L1393.74 232.11 L1395.3 232.9 L1396.86 233.83 L1398.42 234.91 L1399.97 236.01 L1401.53 236.66 L1403.09 237.15 L1404.64 237.19 L1406.2 236.84 L1407.76 236.35 L1409.31 236.12 L1410.87 235.75 L1412.43 235.48 L1413.98 235.22 L1415.54 235.16 L1417.1 235.47 L1418.65 237.23 L1420.21 238.84 L1421.77 239.92 L1423.33 241.32 L1424.88 242.5 L1426.44 242.9 L1428 243.47 L1429.55 244.15 L1431.11 244.53 L1432.67 244.78 L1434.22 244.92 L1435.78 245.36 L1437.34 245.94 L1438.89 246.45 L1440.45 247.01 L1442.01 247.45 L1443.56 248.43 L1445.12 249.01 L1446.68 249.92 L1448.23 250.48 L1449.79 251.56 L1451.35 252.14 L1452.91 252.85 L1454.46 253.26 L1456.02 253.99 L1457.58 254.53 L1459.13 255.07 L1460.69 255.5 L1462.25 256.16 L1463.8 256.53 L1465.36 257.04 L1466.92 257.53 L1468.47 258.29 L1470.03 258.65 L1471.59 259.29 L1473.14 259.85 L1474.7 260.69 L1476.26 261.29 L1477.82 261.93 L1479.37 262.39 L1480.93 263.21 L1482.49 263.86 L1484.04 264.47 L1485.6 265.16 L1487.16 266.28 L1488.71 266.7 L1490.27 267.57 L1491.83 268.39 L1493.38 269.37 L1494.94 270.05 L1496.5 271.09 L1498.05 271.96 L1499.61 273.05 L1501.17 273.65 L1502.72 274.69 L1504.28 275.67 L1505.84 276.75 L1507.4 277.46 L1508.95 278.32 L1510.51 279.27 L1512.07 280 L1513.62 280.77 L1515.18 281.82 L1516.74 282.85 L1518.29 283.66 L1519.85 284.35 L1521.41 285.39 L1522.96 286.33 L1524.52 286.99 L1526.08 288 L1527.63 288.81 L1529.19 289.65 L1530.75 290.54 L1532.31 291.38 L1533.86 292.31 L1535.42 293.07 L1536.98 294.09 L1538.53 294.86 L1540.09 296.03 L1541.65 296.9 L1543.2 297.62 L1544.76 298.89 L1546.32 299.66 L1547.87 300.83 L1549.43 302 L1550.99 303.09 L1552.54 304.2 L1554.1 305.32 L1555.66 306.24 L1557.21 307.54 L1558.77 308.26 L1560.33 309.52 L1561.89 310.26 L1563.44 311.26 L1565 312.25 L1566.56 313.06 L1568.11 314.03 L1569.67 315.05 L1571.23 316.01 L1572.78 317.09 L1574.34 318.05 L1575.9 318.6 L1577.45 319.69 L1579.01 320.43 L1580.57 321.57 L1582.12 322.27 L1583.68 323.36 L1585.24 324.09 L1586.79 324.78 L1588.35 325.58 L1589.91 326.52 L1591.47 327.59 L1593.02 328.14 L1594.58 329.09 L1596.14 329.86 L1597.69 330.66 L1599.25 331.64 L1600.81 332.21 L1602.36 333.2 L1603.92 333.96 L1605.48 334.83 L1607.03 335.44 L1608.59 336.35 L1610.15 336.91 L1611.7 337.7 L1613.26 338.44 L1614.82 339.24 L1616.38 339.98 L1617.93 340.38 L1619.49 341.09 L1621.05 341.93 L1622.6 342.72 L1624.16 343.29 L1625.72 343.86 L1627.27 344.77 L1628.83 345.17 L1630.39 345.73 L1631.94 346.35 L1633.5 346.96 L1635.06 347.85 L1636.61 348.24 L1638.17 349.08 L1639.73 349.75 L1641.28 350.4 L1642.84 350.92 L1644.4 351.35 L1645.96 351.99 L1647.51 352.62 L1649.07 353.11 L1650.63 353.47 L1652.18 354.15 L1653.74 354.39 L1655.3 354.95 L1656.85 355.68 L1658.41 355.93 L1659.97 356.29 L1661.52 356.92 L1663.08 357.21 L1664.64 357.44 L1666.19 357.84 L1667.75 358.32 L1669.31 358.74 L1670.87 359.36 L1672.42 359.47 L1673.98 360.07 L1675.54 360.42 L1677.09 360.58 L1678.65 361.09 L1680.21 361.25 L1681.76 361.35 L1683.32 361.46 L1684.88 361.73 L1686.43 362.09 L1687.99 362.14 L1689.55 362.18 L1691.1 362.41 L1692.66 362.59 L1694.22 362.61 L1695.77 362.86 L1697.33 362.74 L1698.89 363.09 L1700.45 362.87 L1702 362.85 L1703.56 363.02 L1705.12 362.9 L1706.67 363.1 L1708.23 362.92 L1709.79 362.9 L1711.34 362.97 L1712.9 362.69 L1714.46 362.84 L1716.01 362.75 L1717.57 362.61 L1719.13 362.74 L1720.68 362.32 L1722.24 362.54 L1723.8 362.12 L1725.36 362.19 L1726.91 361.68 L1728.47 361.37 L1730.03 361.24 L1731.58 361.07 L1733.14 360.46 L1734.7 360.18 L1736.25 359.86 L1737.81 359.34 L1739.37 359.08 L1740.92 358.51 L1742.48 358.3 L1744.04 358 L1745.59 357.4 L1747.15 356.9 L1748.71 356.36 L1750.26 356.12 L1751.82 355.51 L1753.38 355.18 L1754.94 354.59 L1756.49 353.81 L1758.05 353.59 L1759.61 353.07 L1761.16 352.49 L1762.72 351.95 L1764.28 351.33 L1765.83 350.78 L1767.39 350.18 L1768.95 349.56 L1770.5 348.84 L1772.06 348.19 L1773.62 347.82 L1775.17 347.17 L1776.73 346.36 L1778.29 345.98 L1779.85 345.36 L1781.4 344.71 L1782.96 344.19 L1784.52 343.61 L1786.07 342.8 L1787.63 342.33 L1789.19 341.58 L1790.74 340.97 L1792.3 340.27" stroke="#2490F0" stroke-width="3" fill="none" stroke-linejoin="round"/>
<path d="M1326.8 243 L1327.97 240.73 L1329.13 238.62 L1330.3 236.84 L1331.47 235.51 L1332.63 234.33 L1333.8 233.23 L1334.97 232.23 L1336.13 231.34 L1337.3 230.6 L1338.47 230.01 L1339.63 229.59 L1340.8 229.33 L1341.97 229.09 L1343.13 228.87 L1344.3 228.67 L1345.47 228.49 L1346.63 228.34 L1347.8 228.21 L1348.97 228.11 L1350.13 228.04 L1351.3 228.01 L1352.47 228.01 L1353.63 228.09 L1354.8 228.26 L1355.97 228.49 L1357.13 228.78 L1358.3 229.11 L1359.47 229.48 L1360.63 229.86 L1361.8 230.25 L1362.97 230.63 L1364.13 230.99 L1365.3 231.32 L1366.47 231.61 L1367.63 231.89 L1368.8 232.17 L1369.97 232.45 L1371.13 232.73 L1372.3 233 L1373.47 233.28 L1374.63 233.55 L1375.8 233.82 L1376.97 234.09 L1378.13 234.35 L1379.3 234.62 L1380.47 234.88 L1381.63 235.14 L1382.8 235.4 L1383.97 235.67 L1385.13 235.93 L1386.3 236.19 L1387.47 236.45 L1388.63 236.7 L1389.8 236.95 L1390.97 237.2 L1392.13 237.44 L1393.3 237.67 L1394.47 237.9 L1395.63 238.12 L1396.8 238.33 L1397.97 238.53 L1399.13 238.73 L1400.3 238.92 L1401.47 239.11 L1402.63 239.29 L1403.8 239.48 L1404.97 239.66 L1406.13 239.85 L1407.3 240.04 L1408.47 240.24 L1409.63 240.44 L1410.8 240.64 L1411.97 240.85 L1413.13 241.05 L1414.3 241.26 L1415.47 241.46 L1416.63 241.67 L1417.8 241.88 L1418.97 242.1 L1420.13 242.32 L1421.3 242.54 L1422.47 242.77 L1423.63 243 L1424.8 243.24 L1425.97 243.49 L1427.13 243.75 L1428.3 244.01 L1429.47 244.28 L1430.63 244.56 L1431.8 244.85 L1432.97 245.14 L1434.13 245.44 L1435.3 245.75 L1436.47 246.08 L1437.63 246.41 L1438.8 246.75 L1439.97 247.11 L1441.13 247.49 L1442.3 247.88 L1443.47 248.28 L1444.63 248.7 L1445.8 249.12 L1446.97 249.56 L1448.13 249.99 L1449.3 250.43 L1450.47 250.86 L1451.63 251.3 L1452.8 251.73 L1453.97 252.15 L1455.13 252.58 L1456.3 253 L1457.47 253.43 L1458.63 253.85 L1459.8 254.28 L1460.97 254.71 L1462.13 255.15 L1463.3 255.58 L1464.47 256.02 L1465.63 256.47 L1466.8 256.92 L1467.97 257.37 L1469.13 257.83 L1470.3 258.3 L1471.47 258.77 L1472.63 259.24 L1473.8 259.72 L1474.97 260.2 L1476.13 260.69 L1477.3 261.18 L1478.47 261.67 L1479.63 262.17 L1480.8 262.68 L1481.97 263.2 L1483.13 263.72 L1484.3 264.25 L1485.47 264.79 L1486.63 265.34 L1487.8 265.9 L1488.97 266.47 L1490.13 267.05 L1491.3 267.65 L1492.47 268.26 L1493.63 268.88 L1494.8 269.51 L1495.97 270.15 L1497.13 270.8 L1498.3 271.45 L1499.47 272.1 L1500.63 272.76 L1501.8 273.42 L1502.97 274.07 L1504.13 274.73 L1505.3 275.39 L1506.47 276.04 L1507.63 276.68 L1508.8 277.33 L1509.97 277.98 L1511.13 278.63 L1512.3 279.28 L1513.47 279.93 L1514.63 280.58 L1515.8 281.24 L1516.97 281.89 L1518.13 282.55 L1519.3 283.21 L1520.47 283.87 L1521.63 284.53 L1522.8 285.2 L1523.97 285.86 L1525.13 286.53 L1526.3 287.2 L1527.47 287.87 L1528.63 288.53 L1529.8 289.19 L1530.97 289.85 L1532.13 290.5 L1533.3 291.16 L1534.47 291.81 L1535.63 292.47 L1536.8 293.13 L1537.97 293.8 L1539.13 294.47 L1540.3 295.16 L1541.47 295.85 L1542.63 296.56 L1543.8 297.28 L1544.97 298.01 L1546.13 298.76 L1547.3 299.54 L1548.47 300.36 L1549.63 301.22 L1550.8 302.1 L1551.97 302.96 L1553.13 303.79 L1554.3 304.6 L1555.47 305.39 L1556.63 306.18 L1557.8 306.97 L1558.97 307.74 L1560.13 308.52 L1561.3 309.28 L1562.47 310.04 L1563.63 310.8 L1564.8 311.55 L1565.97 312.3 L1567.13 313.04 L1568.3 313.78 L1569.47 314.52 L1570.63 315.26 L1571.8 315.99 L1572.97 316.73 L1574.13 317.46 L1575.3 318.19 L1576.47 318.91 L1577.63 319.64 L1578.8 320.36 L1579.97 321.08 L1581.13 321.79 L1582.3 322.5 L1583.47 323.21 L1584.63 323.91 L1585.8 324.61 L1586.97 325.31 L1588.13 326 L1589.3 326.68 L1590.47 327.36 L1591.63 328.03 L1592.8 328.7 L1593.97 329.37 L1595.13 330.03 L1596.3 330.7 L1597.47 331.36 L1598.63 332.01 L1599.8 332.67 L1600.97 333.32 L1602.13 333.96 L1603.3 334.6 L1604.47 335.23 L1605.63 335.86 L1606.8 336.47 L1607.97 337.08 L1609.13 337.68 L1610.3 338.27 L1611.47 338.84 L1612.63 339.41 L1613.8 339.97 L1614.97 340.51 L1616.13 341.06 L1617.3 341.59 L1618.47 342.12 L1619.63 342.64 L1620.8 343.15 L1621.97 343.66 L1623.13 344.17 L1624.3 344.66 L1625.47 345.16 L1626.63 345.64 L1627.8 346.13 L1628.97 346.61 L1630.13 347.09 L1631.3 347.56 L1632.47 348.03 L1633.63 348.5 L1634.8 348.96 L1635.97 349.43 L1637.13 349.89 L1638.3 350.35 L1639.47 350.81 L1640.63 351.26 L1641.8 351.7 L1642.97 352.14 L1644.13 352.58 L1645.3 353 L1646.47 353.42 L1647.63 353.84 L1648.8 354.24 L1649.97 354.63 L1651.13 355.02 L1652.3 355.39 L1653.47 355.76 L1654.63 356.12 L1655.8 356.47 L1656.97 356.82 L1658.13 357.16 L1659.3 357.5 L1660.47 357.82 L1661.63 358.14 L1662.8 358.46 L1663.97 358.76 L1665.13 359.06 L1666.3 359.35 L1667.47 359.64 L1668.63 359.93 L1669.8 360.22 L1670.97 360.51 L1672.13 360.8 L1673.3 361.08 L1674.47 361.35 L1675.63 361.61 L1676.8 361.85 L1677.97 362.08 L1679.13 362.28 L1680.3 362.46 L1681.47 362.62 L1682.63 362.77 L1683.8 362.92 L1684.97 363.06 L1686.13 363.2 L1687.3 363.34 L1688.47 363.48 L1689.63 363.6 L1690.8 363.73 L1691.97 363.84 L1693.13 363.94 L1694.3 364.03 L1695.47 364.11 L1696.63 364.18 L1697.8 364.23 L1698.97 364.27 L1700.13 364.3 L1701.3 364.3 L1702.47 364.3 L1703.63 364.29 L1704.8 364.28 L1705.97 364.26 L1707.13 364.24 L1708.3 364.22 L1709.47 364.19 L1710.63 364.17 L1711.8 364.13 L1712.97 364.1 L1714.13 364.06 L1715.3 364.02 L1716.47 363.98 L1717.63 363.93 L1718.8 363.88 L1719.97 363.83 L1721.13 363.78 L1722.3 363.7 L1723.47 363.59 L1724.63 363.45 L1725.8 363.29 L1726.97 363.11 L1728.13 362.9 L1729.3 362.68 L1730.47 362.44 L1731.63 362.19 L1732.8 361.93 L1733.97 361.66 L1735.13 361.39 L1736.3 361.11 L1737.47 360.82 L1738.63 360.54 L1739.8 360.26 L1740.97 359.99 L1742.13 359.7 L1743.3 359.4 L1744.47 359.08 L1745.63 358.75 L1746.8 358.41 L1747.97 358.06 L1749.13 357.7 L1750.3 357.33 L1751.47 356.95 L1752.63 356.56 L1753.8 356.18 L1754.97 355.78 L1756.13 355.39 L1757.3 354.99 L1758.47 354.59 L1759.63 354.19 L1760.8 353.8 L1761.97 353.39 L1763.13 352.98 L1764.3 352.56 L1765.47 352.13 L1766.63 351.7 L1767.8 351.26 L1768.97 350.82 L1770.13 350.37 L1771.3 349.92 L1772.47 349.48 L1773.63 349.03 L1774.8 348.58 L1775.97 348.13 L1777.13 347.68 L1778.3 347.22 L1779.47 346.77 L1780.63 346.31 L1781.8 345.85 L1782.97 345.39 L1784.13 344.92 L1785.3 344.45 L1786.47 343.98 L1787.63 343.51 L1788.8 343.04 L1789.97 342.56 L1791.13 342.08 L1792.3 341.6" stroke="#0B3A70" stroke-width="3.3" fill="none" stroke-dasharray="15 15.20" stroke-dashoffset="9.55" stroke-linejoin="round"/>
</g>
<line x1="1588.9" y1="60" x2="1653.9" y2="60" stroke="#000" stroke-width="4.6"/>
<line x1="1588.9" y1="91" x2="1653.9" y2="91" stroke="#000" stroke-width="4.4" stroke-dasharray="8.4 7.8" stroke-dashoffset="3.8"/>
<text transform="translate(1669.24 67.7) scale(1.0226 1)" font-size="23.2" fill="#0c0c0c">Before</text>
<text transform="translate(1670.24 98.8) scale(1.0390 1)" font-size="23.2" fill="#0c0c0c">After</text>
<text transform="translate(1239.35 28.05) scale(0.3877 0.3489)" font-size="100" font-weight="bold" fill="#000" stroke="#000" stroke-width="6.52" stroke-linejoin="miter" stroke-miterlimit="1.6">c</text>
<text transform="translate(1284.19 97.66) scale(1.1777 1)" font-size="24" fill="#0c0c0c">60</text>
<text transform="translate(1285.39 204.77) scale(1.1270 1)" font-size="24" fill="#0c0c0c">40</text>
<text transform="translate(1284.61 311.89) scale(1.1573 1)" font-size="24" fill="#0c0c0c">20</text>
<text transform="translate(1299.77 418.9) scale(1.1780 1)" font-size="24" fill="#0c0c0c">0</text>
<text transform="translate(1304.69 441.2) scale(1.1249 1)" font-size="24" fill="#0c0c0c">400</text>
<text transform="translate(1459.41 441.2) scale(1.1373 1)" font-size="24" fill="#0c0c0c">500</text>
<text transform="translate(1614.33 441.2) scale(1.1445 1)" font-size="24" fill="#0c0c0c">600</text>
<text transform="translate(1769.53 441.2) scale(1.1445 1)" font-size="24" fill="#0c0c0c">700</text>
<text transform="translate(1451.76 478.9) scale(1.0191 1)" font-size="28.2" fill="#0c0c0c">Wavelength (nm)</text>
<text transform="translate(1262.5 321.99) rotate(-90) scale(0.9855 1)" font-size="28.2" fill="#0c0c0c">Reflectance (%)</text>
<text transform="translate(1466.51 201.9) scale(0.9736 1)" font-size="23.2" fill="#0c0c0c">Ins.</text>
<text transform="translate(1654.98 236.7) scale(1.0554 1)" font-size="23.2" fill="#0c0c0c">Met.</text>
<line x1="9" y1="510.6" x2="1461.2" y2="510.6" stroke="#1a1a1a" stroke-width="1.35" stroke-dasharray="8.6 8.1" stroke-dashoffset="4.7"/>
<line x1="9" y1="510.6" x2="9" y2="892" stroke="#1a1a1a" stroke-width="1.35" stroke-dasharray="8.4 7.42" stroke-dashoffset="4.1"/>
<line x1="1461.2" y1="510.6" x2="1461.2" y2="892" stroke="#1a1a1a" stroke-width="1.35" stroke-dasharray="8.4 7.42" stroke-dashoffset="4.1"/>
<line x1="9" y1="891.4" x2="1461.2" y2="891.4" stroke="#1a1a1a" stroke-width="1.5" stroke-dasharray="8.6 8.1" stroke-dashoffset="4.6"/>
<rect x="93.15" y="549.3" width="383.85" height="303" fill="none" stroke="#111" stroke-width="1.45"/>
<path d="M93.15 822h8M93.15 791.7h8M93.15 761.4h8M93.15 731.1h8M93.15 700.8h8M93.15 670.5h8M93.15 640.2h8M93.15 609.9h8M93.15 579.6h8" stroke="#111" stroke-width="1.3" fill="none"/>
<path d="M141.13 852.3v-8M189.11 852.3v-8M237.09 852.3v-8M285.08 852.3v-8M333.06 852.3v-8M381.04 852.3v-8M429.02 852.3v-8" stroke="#111" stroke-width="1.3" fill="none"/>
<rect x="577.6" y="549.3" width="383.6" height="303" fill="none" stroke="#111" stroke-width="1.45"/>
<path d="M577.6 822h8M577.6 791.7h8M577.6 761.4h8M577.6 731.1h8M577.6 700.8h8M577.6 670.5h8M577.6 640.2h8M577.6 609.9h8M577.6 579.6h8" stroke="#111" stroke-width="1.3" fill="none"/>
<path d="M625.55 852.3v-8M673.5 852.3v-8M721.45 852.3v-8M769.4 852.3v-8M817.35 852.3v-8M865.3 852.3v-8M913.25 852.3v-8" stroke="#111" stroke-width="1.3" fill="none"/>
<rect x="1064.6" y="551.5" width="383.8" height="302.7" fill="none" stroke="#111" stroke-width="1.45"/>
<path d="M1064.6 823.93h8M1064.6 793.66h8M1064.6 763.39h8M1064.6 733.12h8M1064.6 702.85h8M1064.6 672.58h8M1064.6 642.31h8M1064.6 612.04h8M1064.6 581.77h8" stroke="#111" stroke-width="1.3" fill="none"/>
<path d="M1141.36 854.2v-8M1218.12 854.2v-8M1294.88 854.2v-8M1371.64 854.2v-8" stroke="#111" stroke-width="1.3" fill="none"/>
<path d="M93.75 574.15 L94.15 568.99 L94.55 574.15 L94.95 568.99 L95.35 574.15 L95.75 568.99 L96.15 574.15 L96.55 568.99 L96.95 583.54 L97.35 571.12 L97.75 583.54 L98.15 571.12 L98.55 583.54 L98.95 568.99 L99.35 574.15 L99.75 568.99 L100.15 574.15 L100.55 568.99 L100.95 574.15 L101.35 568.99 L101.75 574.15 L102.15 568.99 L102.55 583.54 L102.95 571.12 L103.35 583.54 L103.75 571.12 L104.15 583.54 L104.55 572.93 L104.95 565.81 L105.35 572.93 L105.75 565.81 L106.15 568.99 L106.55 574.15 L106.95 568.99 L107.35 574.15 L107.75 568.99 L108.15 574.15 L108.55 572.93 L108.95 564.45 L109.35 555.66 L109.75 564.45 L110.15 571.12 L110.55 583.54 L110.95 571.12 L111.35 574.15 L111.75 568.99 L112.15 574.15 L112.55 573.54 L112.95 593.23 L113.35 573.54 L113.75 593.23 L114.15 573.54 L114.55 583.54 L114.95 571.12 L115.35 583.54 L115.75 568.99 L116.15 574.15 L116.55 568.99 L116.95 574.15 L117.35 594.83 L117.75 655.63 L118.15 716.43 L118.55 777.23 L118.95 832.61 L119.35 830.72 L119.75 828.56 L120.15 826.41 L120.55 824.26 L120.95 823.26 L121.35 824.21 L121.75 825.55 L122.15 829.73 L122.55 833.9 L122.95 838.08 L123.35 842.25 L123.75 846.43 L124.15 846.83 L124.55 843.46 L124.95 840.5 L125.35 837.57 L125.75 834.65 L126.15 831.72 L126.55 828.79 L126.95 826.71 L127.35 824.92 L127.75 823.12 L128.15 793.08 L128.55 715.95 L128.95 638.82 L129.35 602.48 L129.75 597.78 L130.15 588.39 L130.55 583.69 L130.95 583.69 L131.35 578.99 L131.75 578.99 L132.15 574.3 L132.55 574.3 L132.95 574.3 L133.35 574.3 L133.75 574.3 L134.15 574.3 L134.55 574.3 L134.95 569.6 L135.35 569.6 L135.75 569.6 L136.15 568.99 L136.55 574.15 L136.95 568.99 L137.35 574.15 L137.75 568.99 L138.15 574.15 L138.55 568.99 L138.95 574.15 L139.35 568.99 L139.75 574.15 L140.15 568.99 L140.55 574.15 L140.95 568.99 L141.35 574.15 L141.75 568.99 L142.15 574.15 L142.55 568.99 L142.95 583.54 L143.35 571.12 L143.75 583.54 L144.15 572.02 L144.55 588.39 L144.95 572.02 L145.35 588.39 L145.75 568.99 L146.15 574.15 L146.55 568.99 L146.95 574.15 L147.35 568.99 L147.75 574.15 L148.15 568.99 L148.55 574.15 L148.95 568.99 L149.35 574.15 L149.75 571.12 L150.15 583.54 L150.55 571.12 L150.95 583.54 L151.35 571.12 L151.75 583.54 L152.15 571.12 L152.55 588.39 L152.95 572.02 L153.35 588.39 L153.75 572.02 L154.15 588.39 L154.55 571.12 L154.95 583.54 L155.35 571.12 L155.75 583.54 L156.15 571.12 L156.55 583.54 L156.95 571.12 L157.35 583.54 L157.75 572.93 L158.15 565.81 L158.55 572.93 L158.95 565.81 L159.35 572.93 L159.75 565.81 L160.15 568.99 L160.55 574.15 L160.95 568.99 L161.35 574.15 L161.75 568.99 L162.15 574.15 L162.55 568.99 L162.95 574.15 L163.35 568.99 L163.75 574.15 L164.15 571.12 L164.55 583.54 L164.95 571.12 L165.35 583.54 L165.75 568.99 L166.15 574.15 L166.55 568.99 L166.95 574.15 L167.35 568.99 L167.75 574.15 L168.15 568.99 L168.55 574.15 L168.95 568.99 L169.35 574.15 L169.75 568.99 L170.15 574.15 L170.55 568.99 L170.95 574.15 L171.35 568.99 L171.75 574.15 L172.15 568.99 L172.55 574.15 L172.95 568.99 L173.35 574.15 L173.75 568.99 L174.15 574.15 L174.55 568.99 L174.95 574.15 L175.35 568.99 L175.75 574.15 L176.15 568.99 L176.55 593.23 L176.95 573.54 L177.35 593.23 L177.75 573.54 L178.15 565.81 L178.55 572.93 L178.95 565.81 L179.35 572.93 L179.75 565.81 L180.15 572.93 L180.55 574.15 L180.95 568.99 L181.35 574.15 L181.75 568.99 L182.15 574.15 L182.55 568.99 L182.95 574.15 L183.35 568.99 L183.75 565.81 L184.15 572.93 L184.55 565.81 L184.95 572.93 L185.35 565.81 L185.75 568.99 L186.15 574.15 L186.55 568.99 L186.95 574.15 L187.35 568.99 L187.75 574.15 L188.15 568.99 L188.55 574.15 L188.95 568.99 L189.35 574.15 L189.75 568.99 L190.15 574.15 L190.55 568.99 L190.95 574.15 L191.35 568.99 L191.75 574.15 L192.15 568.99 L192.55 574.15 L192.95 568.99 L193.35 574.15 L193.75 568.99 L194.15 574.15 L194.55 568.99 L194.95 574.15 L195.35 568.99 L195.75 574.15 L196.15 568.99 L196.55 574.15 L196.95 568.99 L197.35 574.15 L197.75 568.99 L198.15 574.15 L198.55 568.99 L198.95 574.15 L199.35 571.12 L199.75 583.54 L200.15 571.12 L200.55 583.54 L200.95 571.12 L201.35 583.54 L201.75 571.12 L202.15 583.54 L202.55 571.12 L202.95 583.54 L203.35 572.02 L203.75 588.39 L204.15 572.02 L204.55 588.39 L204.95 573.54 L205.35 593.23 L205.75 573.54 L206.15 593.23 L206.55 571.12 L206.95 583.54 L207.35 571.12 L207.75 583.54 L208.15 571.12 L208.55 574.15 L208.95 568.99 L209.35 594.43 L209.75 654.17 L210.15 713.91 L210.55 773.65 L210.95 828.06 L211.35 826.45 L211.75 824.62 L212.15 822.78 L212.55 823.58 L212.95 826.34 L213.35 829.09 L213.75 830.71 L214.15 829.33 L214.55 827.96 L214.95 826.58 L215.35 825.2 L215.75 825.03 L216.15 825.03 L216.55 825.03 L216.95 825.03 L217.35 825.03 L217.75 827 L218.15 832.27 L218.55 837.54 L218.95 842.8 L219.35 840.9 L219.75 834.87 L220.15 762.78 L220.55 681.24 L220.95 607.17 L221.35 597.78 L221.75 593.08 L222.15 588.39 L222.55 583.69 L222.95 578.99 L223.35 578.99 L223.75 578.99 L224.15 574.3 L224.55 574.3 L224.95 574.3 L225.35 574.3 L225.75 574.3 L226.15 574.3 L226.55 574.3 L226.95 569.6 L227.35 569.6 L227.75 569.6 L228.15 574.15 L228.55 568.99 L228.95 574.15 L229.35 571.12 L229.75 583.54 L230.15 571.12 L230.55 574.15 L230.95 568.99 L231.35 574.15 L231.75 568.99 L232.15 574.15 L232.55 568.99 L232.95 574.15 L233.35 568.99 L233.75 574.15 L234.15 571.12 L234.55 583.54 L234.95 571.12 L235.35 583.54 L235.75 571.12 L236.15 583.54 L236.55 571.12 L236.95 583.54 L237.35 568.99 L237.75 574.15 L238.15 568.99 L238.55 574.15 L238.95 568.99 L239.35 565.81 L239.75 572.93 L240.15 565.81 L240.55 568.99 L240.95 574.15 L241.35 568.99 L241.75 574.15 L242.15 568.99 L242.55 574.15 L242.95 572.02 L243.35 588.39 L243.75 572.02 L244.15 588.39 L244.55 572.02 L244.95 565.81 L245.35 572.93 L245.75 565.81 L246.15 572.93 L246.55 588.39 L246.95 572.02 L247.35 588.39 L247.75 572.02 L248.15 588.39 L248.55 568.99 L248.95 574.15 L249.35 568.99 L249.75 574.15 L250.15 568.99 L250.55 583.54 L250.95 571.12 L251.35 583.54 L251.75 571.12 L252.15 583.54 L252.55 571.12 L252.95 583.54 L253.35 571.12 L253.75 583.54 L254.15 571.12 L254.55 583.54 L254.95 572.93 L255.35 565.81 L255.75 572.93 L256.15 565.81 L256.55 572.93 L256.95 583.54 L257.35 571.12 L257.75 583.54 L258.15 571.12 L258.55 565.81 L258.95 572.93 L259.35 565.81 L259.75 572.93 L260.15 583.54 L260.55 571.12 L260.95 583.54 L261.35 571.12 L261.75 583.54 L262.15 571.12 L262.55 583.54 L262.95 571.12 L263.35 583.54 L263.75 571.12 L264.15 574.15 L264.55 568.99 L264.95 574.15 L265.35 568.99 L265.75 574.15 L266.15 568.99 L266.55 574.15 L266.95 571.12 L267.35 583.54 L267.75 571.12 L268.15 583.54 L268.55 571.12 L268.95 583.54 L269.35 572.93 L269.75 565.81 L270.15 572.93 L270.55 565.81 L270.95 572.93 L271.35 565.81 L271.75 572.93 L272.15 565.81 L272.55 572.93 L272.95 565.81 L273.35 572.93 L273.75 588.39 L274.15 572.02 L274.55 588.39 L274.95 568.99 L275.35 574.15 L275.75 568.99 L276.15 565.81 L276.55 572.93 L276.95 565.81 L277.35 571.12 L277.75 583.54 L278.15 571.12 L278.55 583.54 L278.95 571.12 L279.35 574.15 L279.75 568.99 L280.15 574.15 L280.55 568.99 L280.95 574.15 L281.35 568.99 L281.75 574.15 L282.15 568.99 L282.55 574.15 L282.95 568.99 L283.35 574.15 L283.75 568.99 L284.15 574.15 L284.55 568.99 L284.95 574.15 L285.35 568.99 L285.75 574.15 L286.15 568.99 L286.55 574.15 L286.95 568.99 L287.35 574.15 L287.75 568.99 L288.15 574.15 L288.55 568.99 L288.95 583.54 L289.35 571.12 L289.75 583.54 L290.15 571.12 L290.55 583.54 L290.95 568.99 L291.35 574.15 L291.75 568.99 L292.15 574.15 L292.55 568.99 L292.95 574.15 L293.35 568.99 L293.75 574.15 L294.15 571.12 L294.55 583.54 L294.95 571.12 L295.35 583.54 L295.75 571.12 L296.15 583.54 L296.55 571.12 L296.95 583.54 L297.35 571.12 L297.75 565.81 L298.15 572.93 L298.55 565.81 L298.95 571.12 L299.35 583.54 L299.75 571.12 L300.15 583.54 L300.55 571.12 L300.95 623.68 L301.35 682.71 L301.75 741.75 L302.15 800.78 L302.55 825.3 L302.95 826.02 L303.35 826.74 L303.75 827.46 L304.15 828.67 L304.55 832.13 L304.95 835.59 L305.35 839.05 L305.75 842.52 L306.15 845.98 L306.55 843.57 L306.95 840.69 L307.35 838.04 L307.75 835.44 L308.15 832.84 L308.55 830.25 L308.95 827.65 L309.35 825.92 L309.75 824.84 L310.15 823.76 L310.55 822.68 L310.95 793.08 L311.35 715.95 L311.75 638.82 L312.15 602.48 L312.55 597.78 L312.95 588.39 L313.35 583.69 L313.75 583.69 L314.15 578.99 L314.55 578.99 L314.95 574.3 L315.35 574.3 L315.75 574.3 L316.15 574.3 L316.55 574.3 L316.95 574.3 L317.35 574.3 L317.75 569.6 L318.15 569.6 L318.55 569.6 L318.95 583.54 L319.35 571.12 L319.75 583.54 L320.15 571.12 L320.55 583.54 L320.95 571.12 L321.35 574.15 L321.75 568.99 L322.15 574.15 L322.55 568.99 L322.95 574.15 L323.35 568.99 L323.75 574.15 L324.15 568.99 L324.55 574.15 L324.95 568.99 L325.35 574.15 L325.75 568.99 L326.15 574.15 L326.55 568.99 L326.95 574.15 L327.35 568.99 L327.75 574.15 L328.15 568.99 L328.55 574.15 L328.95 568.99 L329.35 574.15 L329.75 568.99 L330.15 574.15 L330.55 572.93 L330.95 565.81 L331.35 572.93 L331.75 565.81 L332.15 572.93 L332.55 565.81 L332.95 572.93 L333.35 574.15 L333.75 568.99 L334.15 574.15 L334.55 568.99 L334.95 574.15 L335.35 568.99 L335.75 574.15 L336.15 568.99 L336.55 565.81 L336.95 572.93 L337.35 565.81 L337.75 572.93 L338.15 565.81 L338.55 572.93 L338.95 588.39 L339.35 572.02 L339.75 588.39 L340.15 572.02 L340.55 588.39 L340.95 572.93 L341.35 565.81 L341.75 572.93 L342.15 565.81 L342.55 572.93 L342.95 574.15 L343.35 568.99 L343.75 574.15 L344.15 568.99 L344.55 574.15 L344.95 568.99 L345.35 574.15 L345.75 568.99 L346.15 574.15 L346.55 573.54 L346.95 593.23 L347.35 573.54 L347.75 593.23 L348.15 573.54 L348.55 593.23 L348.95 568.99 L349.35 574.15 L349.75 568.99 L350.15 574.15 L350.55 568.99 L350.95 574.15 L351.35 568.99 L351.75 574.15 L352.15 568.99 L352.55 583.54 L352.95 571.12 L353.35 583.54 L353.75 571.12 L354.15 583.54 L354.55 571.12 L354.95 583.54 L355.35 571.12 L355.75 583.54 L356.15 571.12 L356.55 583.54 L356.95 571.12 L357.35 565.81 L357.75 572.93 L358.15 565.81 L358.55 572.93 L358.95 565.81 L359.35 572.93 L359.75 565.81 L360.15 572.93 L360.55 574.15 L360.95 568.99 L361.35 574.15 L361.75 568.99 L362.15 574.15 L362.55 568.99 L362.95 574.15 L363.35 568.99 L363.75 574.15 L364.15 568.99 L364.55 574.15 L364.95 568.99 L365.35 574.15 L365.75 568.99 L366.15 583.54 L366.55 571.12 L366.95 583.54 L367.35 571.12 L367.75 583.54 L368.15 571.12 L368.55 565.81 L368.95 572.93 L369.35 565.81 L369.75 572.93 L370.15 574.15 L370.55 568.99 L370.95 574.15 L371.35 568.99 L371.75 574.15 L372.15 568.99 L372.55 574.15 L372.95 571.12 L373.35 583.54 L373.75 571.12 L374.15 583.54 L374.55 571.12 L374.95 583.54 L375.35 571.12 L375.75 574.15 L376.15 568.99 L376.55 574.15 L376.95 568.99 L377.35 574.15 L377.75 568.99 L378.15 574.15 L378.55 572.93 L378.95 565.81 L379.35 572.93 L379.75 565.81 L380.15 572.93 L380.55 565.81 L380.95 572.02 L381.35 588.39 L381.75 572.02 L382.15 588.39 L382.55 571.12 L382.95 583.54 L383.35 571.12 L383.75 583.54 L384.15 571.12 L384.55 583.54 L384.95 571.12 L385.35 583.54 L385.75 571.12 L386.15 583.54 L386.55 571.12 L386.95 583.54 L387.35 571.12 L387.75 583.54 L388.15 571.12 L388.55 583.54 L388.95 572.02 L389.35 588.39 L389.75 572.02 L390.15 588.39 L390.55 571.12 L390.95 583.54 L391.35 571.12 L391.75 583.54 L392.15 593.37 L392.55 650.28 L392.95 707.19 L393.35 764.11 L393.75 815.94 L394.15 818.77 L394.55 822 L394.95 825.04 L395.35 825.28 L395.75 825.51 L396.15 825.74 L396.55 825.97 L396.95 826.2 L397.35 826.43 L397.75 826.54 L398.15 826.54 L398.55 826.54 L398.95 826.54 L399.35 826.54 L399.75 826.54 L400.15 826.54 L400.55 826.54 L400.95 824.12 L401.35 812.36 L401.75 735.23 L402.15 658.1 L402.55 607.17 L402.95 597.78 L403.35 593.08 L403.75 588.39 L404.15 583.69 L404.55 578.99 L404.95 578.99 L405.35 574.3 L405.75 574.3 L406.15 574.3 L406.55 574.3 L406.95 574.3 L407.35 574.3 L407.75 574.3 L408.15 569.6 L408.55 569.6 L408.95 569.6 L409.35 571.12 L409.75 583.54 L410.15 571.12 L410.55 593.23 L410.95 573.54 L411.35 593.23 L411.75 568.99 L412.15 574.15 L412.55 568.99 L412.95 574.15 L413.35 568.99 L413.75 574.15 L414.15 568.99 L414.55 574.15 L414.95 568.99 L415.35 574.15 L415.75 568.99 L416.15 574.15 L416.55 568.99 L416.95 574.15 L417.35 568.99 L417.75 574.15 L418.15 568.99 L418.55 574.15 L418.95 572.02 L419.35 588.39 L419.75 572.02 L420.15 588.39 L420.55 568.99 L420.95 574.15 L421.35 568.99 L421.75 574.15 L422.15 568.99 L422.55 574.15 L422.95 568.99 L423.35 574.15 L423.75 568.99 L424.15 574.15 L424.55 571.12 L424.95 583.54 L425.35 571.12 L425.75 574.15 L426.15 568.99 L426.55 574.15 L426.95 568.99 L427.35 574.15 L427.75 568.99 L428.15 574.15 L428.55 568.99 L428.95 583.54 L429.35 571.12 L429.75 583.54 L430.15 571.12 L430.55 588.39 L430.95 572.02 L431.35 588.39 L431.75 571.12 L432.15 583.54 L432.55 571.12 L432.95 583.54 L433.35 571.12 L433.75 583.54 L434.15 572.93 L434.55 565.81 L434.95 572.93 L435.35 565.81 L435.75 568.99 L436.15 574.15 L436.55 568.99 L436.95 574.15 L437.35 568.99 L437.75 574.15 L438.15 568.99 L438.55 574.15 L438.95 568.99 L439.35 574.15 L439.75 572.93 L440.15 565.81 L440.55 572.93 L440.95 565.81 L441.35 571.12 L441.75 583.54 L442.15 571.12 L442.55 583.54 L442.95 568.99 L443.35 574.15 L443.75 568.99 L444.15 574.15 L444.55 568.99 L444.95 574.15 L445.35 568.99 L445.75 574.15 L446.15 568.99 L446.55 574.15 L446.95 572.02 L447.35 588.39 L447.75 572.02 L448.15 588.39 L448.55 572.02 L448.95 588.39 L449.35 572.02 L449.75 588.39 L450.15 572.93 L450.55 565.81 L450.95 572.93 L451.35 583.54 L451.75 571.12 L452.15 583.54 L452.55 571.12 L452.95 583.54 L453.35 571.12 L453.75 574.15 L454.15 568.99 L454.55 574.15 L454.95 572.93 L455.35 565.81 L455.75 572.93 L456.15 574.15 L456.55 568.99 L456.95 574.15 L457.35 568.99 L457.75 574.15 L458.15 568.99 L458.55 588.39 L458.95 572.02 L459.35 588.39 L459.75 571.12 L460.15 583.54 L460.55 571.12 L460.95 583.54 L461.35 571.12 L461.75 583.54 L462.15 572.93 L462.55 565.81 L462.95 564.45 L463.35 555.66 L463.75 564.45 L464.15 564.45 L464.55 568.99 L464.95 574.15 L465.35 568.99 L465.75 565.81 L466.15 572.93 L466.55 565.81 L466.95 572.93 L467.35 583.54 L467.75 571.12 L468.15 583.54 L468.55 571.12 L468.95 583.54 L469.35 571.12 L469.75 588.39 L470.15 572.02 L470.55 588.39 L470.95 572.93 L471.35 565.81 L471.75 572.93 L472.15 588.39 L472.55 572.02 L472.95 588.39 L473.35 572.02 L473.75 588.39 L474.15 568.99 L474.55 574.15 L474.95 568.99 L475.35 583.54 L475.75 571.12 L476.15 583.54 L476.55 571.12" stroke="#0A72C0" stroke-width="2.3" fill="none" stroke-linejoin="round"/>
<path d="M578.2 565.81 L578.6 572.93 L579 565.81 L579.4 572.93 L579.8 565.81 L580.2 571.12 L580.6 583.54 L581 571.12 L581.4 583.54 L581.8 568.99 L582.2 574.15 L582.6 568.99 L583 574.15 L583.4 568.99 L583.8 574.15 L584.2 568.99 L584.6 616.3 L585 675.34 L585.4 734.37 L585.8 793.4 L586.2 825.19 L586.6 825.81 L587 826.43 L587.4 827.05 L587.8 827.67 L588.2 828.15 L588.6 828.38 L589 828.61 L589.4 828.85 L589.8 829.08 L590.2 829.31 L590.6 829.55 L591 829.03 L591.4 828.41 L591.8 827.79 L592.2 827.17 L592.6 826.55 L593 747.77 L593.4 668.99 L593.8 607.17 L594.2 597.78 L594.6 593.08 L595 588.39 L595.4 583.69 L595.8 578.99 L596.2 578.99 L596.6 574.3 L597 574.3 L597.4 574.3 L597.8 574.3 L598.2 574.3 L598.6 574.3 L599 574.3 L599.4 574.3 L599.8 569.6 L600.2 569.6 L600.6 569.6 L601 574.15 L601.4 568.99 L601.8 574.15 L602.2 568.99 L602.6 574.15 L603 568.99 L603.4 574.15 L603.8 571.12 L604.2 583.54 L604.6 571.12 L605 574.15 L605.4 568.99 L605.8 574.15 L606.2 568.99 L606.6 574.15 L607 568.99 L607.4 574.15 L607.8 571.12 L608.2 583.54 L608.6 571.12 L609 574.15 L609.4 568.99 L609.8 574.15 L610.2 568.99 L610.6 574.15 L611 568.99 L611.4 574.15 L611.8 568.99 L612.2 574.15 L612.6 568.99 L613 583.54 L613.4 571.12 L613.8 583.54 L614.2 571.12 L614.6 583.54 L615 568.99 L615.4 574.15 L615.8 568.99 L616.2 574.15 L616.6 571.12 L617 583.54 L617.4 571.12 L617.8 583.54 L618.2 571.12 L618.6 565.81 L619 572.93 L619.4 565.81 L619.8 572.93 L620.2 565.81 L620.6 572.93 L621 583.54 L621.4 571.12 L621.8 583.54 L622.2 571.12 L622.6 583.54 L623 568.99 L623.4 574.15 L623.8 568.99 L624.2 574.15 L624.6 568.99 L625 574.15 L625.4 568.99 L625.8 574.15 L626.2 568.99 L626.6 574.15 L627 568.99 L627.4 574.15 L627.8 572.93 L628.2 565.81 L628.6 572.93 L629 565.81 L629.4 572.93 L629.8 565.81 L630.2 572.93 L630.6 565.81 L631 571.12 L631.4 583.54 L631.8 571.12 L632.2 583.54 L632.6 571.12 L633 574.15 L633.4 568.99 L633.8 574.15 L634.2 568.99 L634.6 574.15 L635 564.45 L635.4 555.66 L635.8 564.45 L636.2 574.15 L636.6 571.12 L637 583.54 L637.4 571.12 L637.8 583.54 L638.2 571.12 L638.6 583.54 L639 571.12 L639.4 583.54 L639.8 571.12 L640.2 583.54 L640.6 571.12 L641 583.54 L641.4 571.12 L641.8 583.54 L642.2 571.12 L642.6 583.54 L643 571.12 L643.4 565.81 L643.8 572.93 L644.2 565.81 L644.6 572.93 L645 565.81 L645.4 572.93 L645.8 565.81 L646.2 572.02 L646.6 588.39 L647 572.02 L647.4 588.39 L647.8 572.02 L648.2 583.54 L648.6 571.12 L649 583.54 L649.4 571.12 L649.8 583.54 L650.2 571.12 L650.6 574.15 L651 568.99 L651.4 574.15 L651.8 568.99 L652.2 574.15 L652.6 568.99 L653 565.81 L653.4 572.93 L653.8 565.81 L654.2 572.93 L654.6 565.81 L655 571.12 L655.4 583.54 L655.8 571.12 L656.2 583.54 L656.6 571.12 L657 574.15 L657.4 568.99 L657.8 574.15 L658.2 568.99 L658.6 574.15 L659 568.99 L659.4 601.54 L659.8 660.58 L660.2 719.61 L660.6 778.65 L661 825.03 L661.4 825.31 L661.8 825.58 L662.2 825.86 L662.6 826.14 L663 826.41 L663.4 826.98 L663.8 827.81 L664.2 828.64 L664.6 829.47 L665 830.3 L665.4 831.26 L665.8 834.58 L666.2 837.9 L666.6 841.22 L667 841.55 L667.4 837.4 L667.8 833.25 L668.2 829.1 L668.6 768.56 L669 689.23 L669.4 609.9 L669.8 597.78 L670.2 593.08 L670.6 588.39 L671 583.69 L671.4 578.99 L671.8 578.99 L672.2 578.99 L672.6 574.3 L673 574.3 L673.4 574.3 L673.8 574.3 L674.2 574.3 L674.6 574.3 L675 574.3 L675.4 569.6 L675.8 569.6 L676.2 569.6 L676.6 574.15 L677 568.99 L677.4 574.15 L677.8 568.99 L678.2 565.81 L678.6 572.93 L679 565.81 L679.4 572.93 L679.8 565.81 L680.2 572.93 L680.6 574.15 L681 568.99 L681.4 574.15 L681.8 568.99 L682.2 574.15 L682.6 568.99 L683 574.15 L683.4 568.99 L683.8 574.15 L684.2 568.99 L684.6 565.81 L685 572.93 L685.4 565.81 L685.8 572.93 L686.2 565.81 L686.6 572.93 L687 583.54 L687.4 571.12 L687.8 583.54 L688.2 571.12 L688.6 583.54 L689 571.12 L689.4 565.81 L689.8 572.93 L690.2 565.81 L690.6 572.93 L691 565.81 L691.4 572.93 L691.8 565.81 L692.2 572.93 L692.6 565.81 L693 572.93 L693.4 565.81 L693.8 572.93 L694.2 565.81 L694.6 572.93 L695 565.81 L695.4 568.99 L695.8 574.15 L696.2 568.99 L696.6 574.15 L697 568.99 L697.4 574.15 L697.8 572.93 L698.2 565.81 L698.6 572.93 L699 583.54 L699.4 571.12 L699.8 583.54 L700.2 568.99 L700.6 574.15 L701 568.99 L701.4 564.45 L701.8 555.66 L702.2 564.45 L702.6 568.99 L703 574.15 L703.4 568.99 L703.8 574.15 L704.2 572.93 L704.6 565.81 L705 572.93 L705.4 565.81 L705.8 572.93 L706.2 565.81 L706.6 572.93 L707 565.81 L707.4 572.93 L707.8 565.81 L708.2 568.99 L708.6 574.15 L709 568.99 L709.4 574.15 L709.8 568.99 L710.2 574.15 L710.6 571.12 L711 583.54 L711.4 571.12 L711.8 583.54 L712.2 571.12 L712.6 583.54 L713 571.12 L713.4 583.54 L713.8 571.12 L714.2 583.54 L714.6 571.12 L715 574.15 L715.4 568.99 L715.8 574.15 L716.2 568.99 L716.6 574.15 L717 568.99 L717.4 565.81 L717.8 572.93 L718.2 565.81 L718.6 572.93 L719 565.81 L719.4 568.99 L719.8 574.15 L720.2 568.99 L720.6 574.15 L721 568.99 L721.4 574.15 L721.8 568.99 L722.2 565.81 L722.6 572.93 L723 565.81 L723.4 571.12 L723.8 583.54 L724.2 571.12 L724.6 583.54 L725 571.12 L725.4 583.54 L725.8 571.12 L726.2 583.54 L726.6 571.12 L727 583.54 L727.4 571.12 L727.8 583.54 L728.2 571.12 L728.6 583.54 L729 571.12 L729.4 583.54 L729.8 571.12 L730.2 583.54 L730.6 572.93 L731 565.81 L731.4 572.93 L731.8 565.81 L732.2 568.99 L732.6 574.15 L733 568.99 L733.4 574.15 L733.8 601.54 L734.2 660.58 L734.6 719.61 L735 778.65 L735.4 825.03 L735.8 825.31 L736.2 825.59 L736.6 825.87 L737 826.15 L737.4 826.43 L737.8 827.05 L738.2 827.89 L738.6 828.73 L739 829.57 L739.4 830.42 L739.8 831.76 L740.2 835.13 L740.6 838.5 L741 841.86 L741.4 840.69 L741.8 836.48 L742.2 832.27 L742.6 828.06 L743 748.73 L743.4 669.4 L743.8 607.17 L744.2 597.78 L744.6 593.08 L745 588.39 L745.4 583.69 L745.8 578.99 L746.2 578.99 L746.6 574.3 L747 574.3 L747.4 574.3 L747.8 574.3 L748.2 574.3 L748.6 574.3 L749 574.3 L749.4 574.3 L749.8 569.6 L750.2 569.6 L750.6 569.6 L751 568.99 L751.4 574.15 L751.8 568.99 L752.2 574.15 L752.6 572.93 L753 565.81 L753.4 572.93 L753.8 565.81 L754.2 572.93 L754.6 588.39 L755 572.02 L755.4 588.39 L755.8 571.12 L756.2 583.54 L756.6 571.12 L757 583.54 L757.4 571.12 L757.8 583.54 L758.2 572.93 L758.6 565.81 L759 572.93 L759.4 565.81 L759.8 572.93 L760.2 565.81 L760.6 572.93 L761 565.81 L761.4 572.93 L761.8 565.81 L762.2 572.93 L762.6 565.81 L763 572.93 L763.4 565.81 L763.8 572.93 L764.2 565.81 L764.6 572.93 L765 565.81 L765.4 572.93 L765.8 565.81 L766.2 572.93 L766.6 565.81 L767 572.93 L767.4 565.81 L767.8 572.93 L768.2 583.54 L768.6 571.12 L769 583.54 L769.4 571.12 L769.8 583.54 L770.2 571.12 L770.6 565.81 L771 572.93 L771.4 565.81 L771.8 572.93 L772.2 583.54 L772.6 571.12 L773 583.54 L773.4 571.12 L773.8 583.54 L774.2 571.12 L774.6 583.54 L775 571.12 L775.4 583.54 L775.8 571.12 L776.2 583.54 L776.6 571.12 L777 583.54 L777.4 571.12 L777.8 583.54 L778.2 571.12 L778.6 574.15 L779 568.99 L779.4 574.15 L779.8 568.99 L780.2 574.15 L780.6 572.93 L781 565.81 L781.4 572.93 L781.8 583.54 L782.2 571.12 L782.6 583.54 L783 571.12 L783.4 583.54 L783.8 571.12 L784.2 583.54 L784.6 571.12 L785 574.15 L785.4 568.99 L785.8 574.15 L786.2 568.99 L786.6 574.15 L787 572.93 L787.4 565.81 L787.8 572.93 L788.2 565.81 L788.6 572.93 L789 565.81 L789.4 568.99 L789.8 574.15 L790.2 568.99 L790.6 574.15 L791 568.99 L791.4 574.15 L791.8 568.99 L792.2 574.15 L792.6 572.93 L793 565.81 L793.4 572.93 L793.8 565.81 L794.2 572.93 L794.6 565.81 L795 572.93 L795.4 565.81 L795.8 568.99 L796.2 574.15 L796.6 568.99 L797 583.54 L797.4 571.12 L797.8 583.54 L798.2 571.12 L798.6 574.15 L799 568.99 L799.4 574.15 L799.8 568.99 L800.2 574.15 L800.6 568.99 L801 574.15 L801.4 568.99 L801.8 574.15 L802.2 568.99 L802.6 583.54 L803 571.12 L803.4 583.54 L803.8 571.12 L804.2 583.54 L804.6 571.12 L805 583.54 L805.4 571.12 L805.8 565.81 L806.2 572.93 L806.6 565.81 L807 572.93 L807.4 565.81 L807.8 572.02 L808.2 588.39 L808.6 631.06 L809 690.09 L809.4 749.13 L809.8 808.16 L810.2 825.31 L810.6 825.87 L811 826.43 L811.4 826.99 L811.8 827.55 L812.2 828.08 L812.6 828.29 L813 828.5 L813.4 828.71 L813.8 828.92 L814.2 829.13 L814.6 829.34 L815 829.55 L815.4 829.07 L815.8 828.51 L816.2 827.95 L816.6 827.39 L817 826.83 L817.4 787.16 L817.8 708.38 L818.2 629.6 L818.6 602.48 L819 593.08 L819.4 588.39 L819.8 583.69 L820.2 583.69 L820.6 578.99 L821 578.99 L821.4 574.3 L821.8 574.3 L822.2 574.3 L822.6 574.3 L823 574.3 L823.4 574.3 L823.8 574.3 L824.2 569.6 L824.6 569.6 L825 569.6 L825.4 572.02 L825.8 588.39 L826.2 572.93 L826.6 565.81 L827 572.93 L827.4 565.81 L827.8 572.93 L828.2 565.81 L828.6 572.93 L829 564.45 L829.4 555.66 L829.8 564.45 L830.2 572.93 L830.6 565.81 L831 572.93 L831.4 565.81 L831.8 572.93 L832.2 565.81 L832.6 572.93 L833 565.81 L833.4 572.93 L833.8 583.54 L834.2 571.12 L834.6 583.54 L835 571.12 L835.4 583.54 L835.8 571.12 L836.2 583.54 L836.6 571.12 L837 574.15 L837.4 568.99 L837.8 574.15 L838.2 568.99 L838.6 574.15 L839 568.99 L839.4 574.15 L839.8 572.93 L840.2 565.81 L840.6 572.93 L841 565.81 L841.4 572.93 L841.8 565.81 L842.2 571.12 L842.6 583.54 L843 571.12 L843.4 583.54 L843.8 572.93 L844.2 565.81 L844.6 572.93 L845 574.15 L845.4 568.99 L845.8 574.15 L846.2 568.99 L846.6 574.15 L847 568.99 L847.4 574.15 L847.8 568.99 L848.2 574.15 L848.6 568.99 L849 574.15 L849.4 568.99 L849.8 583.54 L850.2 571.12 L850.6 583.54 L851 568.99 L851.4 574.15 L851.8 568.99 L852.2 574.15 L852.6 568.99 L853 574.15 L853.4 568.99 L853.8 574.15 L854.2 568.99 L854.6 574.15 L855 568.99 L855.4 574.15 L855.8 568.99 L856.2 583.54 L856.6 571.12 L857 583.54 L857.4 571.12 L857.8 583.54 L858.2 571.12 L858.6 583.54 L859 571.12 L859.4 574.15 L859.8 568.99 L860.2 574.15 L860.6 568.99 L861 574.15 L861.4 572.93 L861.8 565.81 L862.2 572.93 L862.6 574.15 L863 568.99 L863.4 574.15 L863.8 568.99 L864.2 574.15 L864.6 568.99 L865 574.15 L865.4 571.12 L865.8 583.54 L866.2 571.12 L866.6 583.54 L867 571.12 L867.4 583.54 L867.8 571.12 L868.2 583.54 L868.6 572.93 L869 565.81 L869.4 572.93 L869.8 565.81 L870.2 571.12 L870.6 583.54 L871 571.12 L871.4 583.54 L871.8 571.12 L872.2 583.54 L872.6 571.12 L873 565.81 L873.4 572.93 L873.8 565.81 L874.2 572.93 L874.6 565.81 L875 572.93 L875.4 565.81 L875.8 571.12 L876.2 583.54 L876.6 571.12 L877 583.54 L877.4 571.12 L877.8 574.15 L878.2 568.99 L878.6 574.15 L879 568.99 L879.4 574.15 L879.8 568.99 L880.2 574.15 L880.6 568.99 L881 574.15 L881.4 568.99 L881.8 574.15 L882.2 568.99 L882.6 631.06 L883 690.09 L883.4 749.13 L883.8 808.16 L884.2 825.17 L884.6 825.45 L885 825.73 L885.4 826.01 L885.8 826.29 L886.2 826.63 L886.6 827.47 L887 828.31 L887.4 829.15 L887.8 830 L888.2 830.84 L888.6 833.45 L889 836.81 L889.4 840.18 L889.8 842.79 L890.2 838.58 L890.6 834.37 L891 830.16 L891.4 788.39 L891.8 709.06 L892.2 629.73 L892.6 602.48 L893 593.08 L893.4 588.39 L893.8 583.69 L894.2 583.69 L894.6 578.99 L895 578.99 L895.4 574.3 L895.8 574.3 L896.2 574.3 L896.6 574.3 L897 574.3 L897.4 574.3 L897.8 574.3 L898.2 569.6 L898.6 569.6 L899 569.6 L899.4 574.15 L899.8 568.99 L900.2 574.15 L900.6 568.99 L901 574.15 L901.4 568.99 L901.8 574.15 L902.2 568.99 L902.6 583.54 L903 571.12 L903.4 583.54 L903.8 571.12 L904.2 583.54 L904.6 571.12 L905 565.81 L905.4 572.93 L905.8 565.81 L906.2 572.93 L906.6 565.81 L907 572.93 L907.4 565.81 L907.8 572.93 L908.2 583.54 L908.6 571.12 L909 583.54 L909.4 571.12 L909.8 583.54 L910.2 571.12 L910.6 583.54 L911 568.99 L911.4 574.15 L911.8 568.99 L912.2 574.15 L912.6 572.93 L913 565.81 L913.4 572.93 L913.8 565.81 L914.2 572.93 L914.6 565.81 L915 571.12 L915.4 583.54 L915.8 571.12 L916.2 565.81 L916.6 572.93 L917 565.81 L917.4 571.12 L917.8 583.54 L918.2 571.12 L918.6 583.54 L919 568.99 L919.4 574.15 L919.8 568.99 L920.2 574.15 L920.6 568.99 L921 574.15 L921.4 571.12 L921.8 583.54 L922.2 571.12 L922.6 583.54 L923 571.12 L923.4 583.54 L923.8 571.12 L924.2 583.54 L924.6 571.12 L925 565.81 L925.4 572.93 L925.8 565.81 L926.2 572.93 L926.6 565.81 L927 572.93 L927.4 565.81 L927.8 572.93 L928.2 565.81 L928.6 572.93 L929 565.81 L929.4 572.93 L929.8 565.81 L930.2 572.93 L930.6 565.81 L931 571.12 L931.4 583.54 L931.8 571.12 L932.2 583.54 L932.6 568.99 L933 574.15 L933.4 568.99 L933.8 574.15 L934.2 568.99 L934.6 574.15 L935 568.99 L935.4 574.15 L935.8 568.99 L936.2 574.15 L936.6 568.99 L937 574.15 L937.4 568.99 L937.8 565.81 L938.2 572.93 L938.6 565.81 L939 572.93 L939.4 565.81 L939.8 572.93 L940.2 574.15 L940.6 568.99 L941 574.15 L941.4 568.99 L941.8 574.15 L942.2 568.99 L942.6 574.15 L943 568.99 L943.4 565.81 L943.8 572.93 L944.2 565.81 L944.6 572.93 L945 564.45 L945.4 555.66 L945.8 564.45 L946.2 572.93 L946.6 565.81 L947 572.93 L947.4 574.15 L947.8 568.99 L948.2 574.15 L948.6 568.99 L949 574.15 L949.4 568.99 L949.8 574.15 L950.2 571.12 L950.6 583.54 L951 571.12 L951.4 583.54 L951.8 571.12 L952.2 583.54 L952.6 572.93 L953 565.81 L953.4 572.93 L953.8 565.81 L954.2 571.12 L954.6 583.54 L955 571.12 L955.4 583.54 L955.8 571.12 L956.2 583.54 L956.6 568.99 L957 631.06 L957.4 690.09 L957.8 749.13 L958.2 808.16 L958.6 826.6 L959 829.73 L959.4 832.87 L959.8 836 L960.2 839.14 L960.6 842.27 L961 843.21" stroke="#92278F" stroke-width="2.3" fill="none" stroke-linejoin="round"/>
<path d="M1064.6 575.87 L1068.44 585.96 L1072.28 629.69 L1076.11 685.74 L1079.95 715.56 L1083.79 696.95 L1087.63 671.17 L1091.47 652.11 L1095.3 620.72 L1099.14 611.3 L1102.98 605.47 L1106.82 591.12 L1110.66 586.41 L1114.49 586.41 L1118.33 575.87 L1122.17 575.87 L1126.01 586.41 L1129.85 575.87 L1133.68 575.87 L1137.52 575.87 L1141.36 586.41 L1145.2 575.87 L1149.04 575.87 L1152.87 575.87 L1156.71 575.87 L1160.55 613.99 L1164.39 674.53 L1168.23 715.56 L1172.06 700.31 L1175.9 675.65 L1179.74 652.11 L1183.58 631.93 L1187.42 611.3 L1191.25 606.14 L1195.09 596.05 L1198.93 591.12 L1202.77 591.12 L1206.61 586.41 L1210.44 586.41 L1214.28 586.41 L1218.12 575.87 L1221.96 575.87 L1225.8 586.41 L1229.63 575.87 L1233.47 586.41 L1237.31 586.41 L1241.15 586.41 L1244.99 586.41 L1248.82 613.99 L1252.66 665.56 L1256.5 715.56 L1260.34 715.56 L1264.18 683.5 L1268.01 652.11 L1271.85 631.93 L1275.69 616.23 L1279.53 602.78 L1283.37 594.93 L1287.2 591.12 L1291.04 591.12 L1294.88 586.41 L1298.72 586.41 L1302.56 586.41 L1306.39 586.41 L1310.23 575.87 L1314.07 575.87 L1317.91 575.87 L1321.75 575.87 L1325.58 586.41 L1329.42 575.87 L1333.26 586.41 L1337.1 606.14 L1340.94 658.83 L1344.77 705.92 L1348.61 715.56 L1352.45 683.5 L1356.29 656.59 L1360.13 638.65 L1363.96 620.72 L1367.8 611.3 L1371.64 606.14 L1375.48 596.05 L1379.32 591.12 L1383.15 591.12 L1386.99 586.41 L1390.83 586.41 L1394.67 586.41 L1398.51 586.41 L1402.34 586.41 L1406.18 575.87 L1410.02 575.87 L1413.86 586.41 L1417.7 586.41 L1421.53 586.41 L1425.37 591.12 L1429.21 634.17 L1433.05 694.71 L1436.89 715.56 L1440.72 696.95 L1444.56 672.29 L1448.4 649.87" stroke="#0B6B3C" stroke-width="2.3" fill="none" stroke-linejoin="round"/>
<text transform="translate(52.28 557.9) scale(0.9850 1)" font-size="24" fill="#0c0c0c">1.0</text>
<text transform="translate(50.55 708.8) scale(1.0401 1)" font-size="24" fill="#0c0c0c">0.5</text>
<text transform="translate(70.27 860) scale(1.1257 1)" font-size="24" fill="#0c0c0c">0</text>
<text transform="translate(34.2 791.73) rotate(-90) scale(1.0095 1)" font-size="28.2" fill="#0c0c0c">Intensity (a.u.)</text>
<text transform="translate(536.73 557.9) scale(0.9850 1)" font-size="24" fill="#0c0c0c">1.0</text>
<text transform="translate(535 708.8) scale(1.0401 1)" font-size="24" fill="#0c0c0c">0.5</text>
<text transform="translate(554.72 860) scale(1.1257 1)" font-size="24" fill="#0c0c0c">0</text>
<text transform="translate(518.7 791.73) rotate(-90) scale(1.0095 1)" font-size="28.2" fill="#0c0c0c">Intensity (a.u.)</text>
<text transform="translate(1023.13 559.1) scale(0.9850 1)" font-size="24" fill="#0c0c0c">1.0</text>
<text transform="translate(1021.4 710.85) scale(1.0401 1)" font-size="24" fill="#0c0c0c">0.5</text>
<text transform="translate(1041.12 861.9) scale(1.1257 1)" font-size="24" fill="#0c0c0c">0</text>
<text transform="translate(1005.5 793.78) rotate(-90) scale(1.0095 1)" font-size="28.2" fill="#0c0c0c">Intensity (a.u.)</text>
<text transform="translate(22.37 540.6) scale(1.0582 1)" font-size="27" fill="#0c0c0c">i</text>
<text transform="translate(502.47 540.7) scale(1.2784 1)" font-size="27" fill="#0c0c0c">ii</text>
<text transform="translate(986.65 540.7) scale(1.1824 1)" font-size="27" fill="#0c0c0c">iii</text>
<text transform="translate(255.3 878.4) scale(0.9591 1)" font-size="23.6" fill="#0c0c0c">1 kHz</text>
<text transform="translate(739.65 878.4) scale(1.0073 1)" font-size="23.6" fill="#0c0c0c">5 kHz</text>
<text transform="translate(1219.3 878.4) scale(1.0141 1)" font-size="23.6" fill="#0c0c0c">70 kHz</text>
<text transform="translate(1494.62 544.08) scale(0.3960 0.3701)" font-size="100" font-weight="bold" fill="#000" stroke="#000" stroke-width="6.27" stroke-linejoin="miter" stroke-miterlimit="1.6">d</text>
<defs>
<filter id="soft" x="-5%" y="-5%" width="110%" height="110%"><feGaussianBlur stdDeviation="0.5"/></filter>
<filter id="soft2" x="-20%" y="-20%" width="140%" height="140%"><feGaussianBlur stdDeviation="0.5"/></filter>
<linearGradient id="sq1" x1="0" y1="0" x2="1" y2="1"><stop offset="0" stop-color="#2C9CEE"/><stop offset="1" stop-color="#1C84E2"/></linearGradient>
<linearGradient id="sq2" x1="0" y1="0" x2="1" y2="1"><stop offset="0" stop-color="#2E94EA"/><stop offset="1" stop-color="#1C78D8"/></linearGradient>
<linearGradient id="bg1" x1="0" y1="0" x2="0" y2="1"><stop offset="0" stop-color="#F6F8EB"/><stop offset="0.5" stop-color="#F7F9EC"/><stop offset="1" stop-color="#FAFBF1"/></linearGradient>
</defs>
<clipPath id="clipd1"><rect x="1496" y="594.3" width="148" height="212.5"/></clipPath>
<rect x="1497.8" y="594.3" width="144.4" height="212.5" fill="url(#bg1)"/>
<g clip-path="url(#clipd1)"><g filter="url(#soft)">
<rect x="1541.9" y="654" width="53.3" height="95" fill="#FFFDFA" stroke="#ECDFDA" stroke-width="0.9"/>
<rect x="1496" y="679.5" width="148" height="53.9" fill="#6E3E50"/>
<rect x="1496" y="678.3" width="148" height="1.2" fill="#CFE6D8" opacity="0.8"/>
<rect x="1496" y="680.4" width="148" height="52.1" fill="#0E2023"/>
<rect x="1541.9" y="680.7" width="53.3" height="51.5" fill="#5B82B6"/>
<rect x="1551.2" y="689.6" width="31.4" height="31.3" rx="1.2" fill="url(#sq1)" stroke="#45285E" stroke-width="1.3"/>
</g>
<circle cx="1515" cy="765.6" r="1.4" fill="#D06A70" opacity="0.75" filter="url(#soft2)"/>
<circle cx="1535.7" cy="793" r="1.4" fill="#8A6AB0" opacity="0.75" filter="url(#soft2)"/>
<circle cx="1547.3" cy="666.6" r="1.2" fill="#D88A8A" opacity="0.75" filter="url(#soft2)"/>
<circle cx="1551.3" cy="744.6" r="1.4" fill="#A05A90" opacity="0.75" filter="url(#soft2)"/>
<circle cx="1561.2" cy="653.2" r="1.4" fill="#D88A90" opacity="0.75" filter="url(#soft2)"/>
<circle cx="1523" cy="737.4" r="1.1" fill="#D8A0A0" opacity="0.75" filter="url(#soft2)"/>
<circle cx="1541.6" cy="658.5" r="1.5" fill="#C87880" opacity="0.75" filter="url(#soft2)"/>
<circle cx="1512" cy="637" r="2" fill="#E2E6DA" opacity="0.75" filter="url(#soft2)"/>
</g>
<rect x="1497.8" y="594.3" width="144.4" height="212.5" fill="none" stroke="#000" stroke-width="2.2"/>
<clipPath id="clipd2"><rect x="1665" y="594.3" width="140.5" height="212.5"/></clipPath>
<rect x="1665" y="594.3" width="140.5" height="212.5" fill="url(#bg1)"/>
<g clip-path="url(#clipd2)"><g filter="url(#soft)">
<rect x="1710" y="653.2" width="55.1" height="97.7" fill="#FFFDFA" stroke="#ECDFDA" stroke-width="0.9"/>
<rect x="1665" y="680.3" width="140.5" height="55" fill="#6E3E50"/>
<rect x="1665" y="679.1" width="140.5" height="1.2" fill="#CFE6D8" opacity="0.8"/>
<rect x="1665" y="681.2" width="140.5" height="53.2" fill="#2A2A34"/>
<rect x="1710" y="681.5" width="55.1" height="52.6" fill="#5879AA"/>
<rect x="1720.1" y="690.4" width="31.9" height="31.2" rx="1.2" fill="url(#sq2)" stroke="#45285E" stroke-width="1.3"/>
</g>
<circle cx="1684.5" cy="768.3" r="1.5" fill="#D06A70" opacity="0.75" filter="url(#soft2)"/>
<circle cx="1705.4" cy="795.8" r="1.2" fill="#B06A90" opacity="0.75" filter="url(#soft2)"/>
<circle cx="1717.6" cy="667.4" r="1.2" fill="#D88A8A" opacity="0.75" filter="url(#soft2)"/>
<circle cx="1720.8" cy="747.3" r="1.4" fill="#C06A80" opacity="0.75" filter="url(#soft2)"/>
<circle cx="1771.9" cy="595.4" r="2" fill="#C88088" opacity="0.75" filter="url(#soft2)"/>
<circle cx="1692" cy="740" r="1.1" fill="#D8A0A0" opacity="0.75" filter="url(#soft2)"/>
<circle cx="1709.8" cy="658" r="1.5" fill="#C87880" opacity="0.75" filter="url(#soft2)"/>
</g>
<rect x="1665" y="594.3" width="140.5" height="212.5" fill="none" stroke="#000" stroke-width="2.2"/>
<rect x="1753" y="788.5" width="41.7" height="8.1" fill="#000"/>
<text transform="translate(1501.34 623.6) scale(1.0923 1)" font-size="26.2" fill="#000">Before</text>
<text transform="translate(1672.73 623.6) scale(1.1186 1)" font-size="26.2" fill="#000">After</text>
</svg>
</body>
</html>
